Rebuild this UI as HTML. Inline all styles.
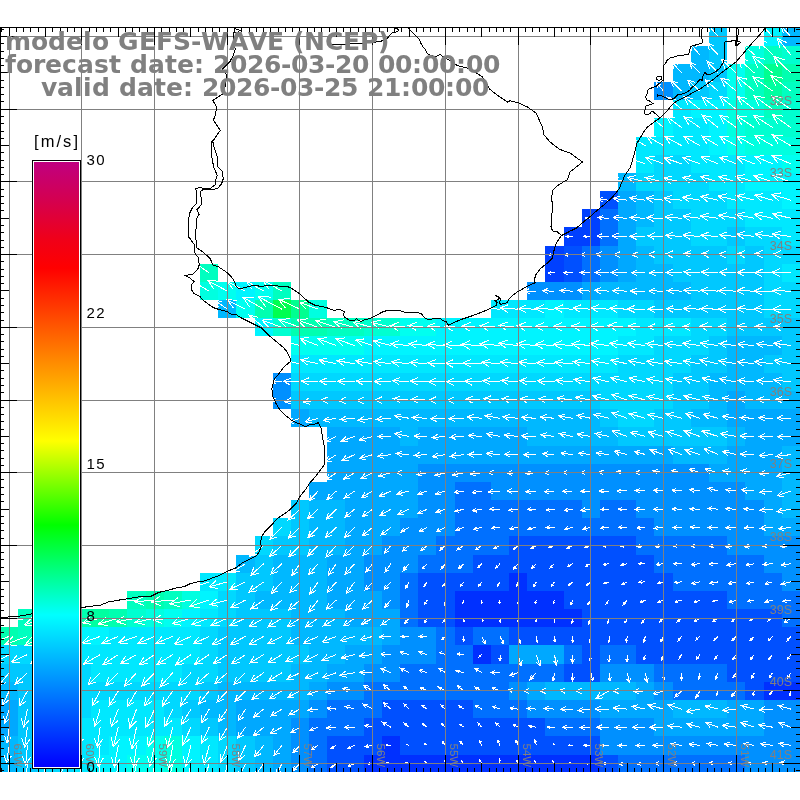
<!DOCTYPE html><html><head><meta charset="utf-8"><title>GEFS-WAVE</title><style>
html,body{margin:0;padding:0;background:#fff;width:800px;height:800px;overflow:hidden}
svg{display:block;position:absolute;left:0;top:0}
.t{font-family:"DejaVu Sans",sans-serif;font-weight:bold;font-size:25px;fill:#808080;font-kerning:none;white-space:pre}
.l{font-family:"Liberation Sans",Arial,sans-serif;font-size:12.5px;fill:#808080}.lo{font-family:"Liberation Sans",Arial,sans-serif;font-size:11.5px;fill:#808080}
.c{font-family:"Liberation Sans",Arial,sans-serif;font-size:15px;fill:#000;letter-spacing:1.5px}.u{font-family:"Liberation Sans",Arial,sans-serif;font-size:16.5px;fill:#000}
</style></head><body>
<svg width="800" height="800" viewBox="0 0 800 800">
<defs><clipPath id="pa"><rect x="0" y="27" width="800" height="745"/></clipPath>
<linearGradient id="cb" x1="0" y1="0" x2="0" y2="1">
<stop offset="0.0000" stop-color="#c00080"/>
<stop offset="0.0628" stop-color="#d40050"/>
<stop offset="0.1289" stop-color="#f00018"/>
<stop offset="0.1752" stop-color="#ff0000"/>
<stop offset="0.4612" stop-color="#ffff00"/>
<stop offset="0.6000" stop-color="#00ff00"/>
<stop offset="0.7488" stop-color="#00ffff"/>
<stop offset="1.0000" stop-color="#0000ff"/>
</linearGradient></defs>
<g clip-path="url(#pa)" shape-rendering="crispEdges">
<rect x="709" y="28" width="18" height="18" fill="#00c8ff"/>
<rect x="764" y="28" width="18" height="18" fill="#00f4ff"/>
<rect x="782" y="28" width="18" height="18" fill="#00b8ff"/>
<rect x="691" y="46" width="18" height="18" fill="#00b8ff"/>
<rect x="709" y="46" width="18" height="18" fill="#00c8ff"/>
<rect x="745" y="46" width="19" height="18" fill="#00ffe0"/>
<rect x="764" y="46" width="18" height="18" fill="#00ffc0"/>
<rect x="782" y="46" width="18" height="18" fill="#00ffd0"/>
<rect x="673" y="64" width="36" height="18" fill="#00b8ff"/>
<rect x="709" y="64" width="18" height="18" fill="#00c8ff"/>
<rect x="727" y="64" width="18" height="18" fill="#00fff0"/>
<rect x="745" y="64" width="19" height="18" fill="#00ffc0"/>
<rect x="764" y="64" width="18" height="18" fill="#00ff90"/>
<rect x="782" y="64" width="18" height="18" fill="#00ffb0"/>
<rect x="654" y="82" width="19" height="18" fill="#0090ff"/>
<rect x="673" y="82" width="18" height="18" fill="#00b8ff"/>
<rect x="691" y="82" width="18" height="18" fill="#00c8ff"/>
<rect x="709" y="82" width="18" height="18" fill="#00d8ff"/>
<rect x="727" y="82" width="18" height="18" fill="#00fff0"/>
<rect x="745" y="82" width="19" height="18" fill="#00ffc0"/>
<rect x="764" y="82" width="18" height="18" fill="#00ffa0"/>
<rect x="782" y="82" width="18" height="18" fill="#00ffc0"/>
<rect x="673" y="100" width="18" height="18" fill="#00e8ff"/>
<rect x="691" y="100" width="36" height="18" fill="#00f4ff"/>
<rect x="727" y="100" width="37" height="18" fill="#00ffe0"/>
<rect x="764" y="100" width="18" height="18" fill="#00ffc0"/>
<rect x="782" y="100" width="18" height="18" fill="#00ffd0"/>
<rect x="654" y="118" width="19" height="19" fill="#00f4ff"/>
<rect x="673" y="118" width="36" height="19" fill="#00e8ff"/>
<rect x="709" y="118" width="18" height="19" fill="#00f4ff"/>
<rect x="727" y="118" width="18" height="19" fill="#00ffe0"/>
<rect x="745" y="118" width="55" height="19" fill="#00ffd0"/>
<rect x="636" y="137" width="73" height="18" fill="#00e8ff"/>
<rect x="709" y="137" width="18" height="18" fill="#00f4ff"/>
<rect x="727" y="137" width="18" height="18" fill="#00fff0"/>
<rect x="745" y="137" width="55" height="18" fill="#00ffe0"/>
<rect x="636" y="155" width="18" height="18" fill="#00e8ff"/>
<rect x="654" y="155" width="37" height="18" fill="#00d8ff"/>
<rect x="691" y="155" width="54" height="18" fill="#00e8ff"/>
<rect x="745" y="155" width="37" height="18" fill="#00f4ff"/>
<rect x="782" y="155" width="18" height="18" fill="#00fff0"/>
<rect x="618" y="173" width="18" height="18" fill="#00b8ff"/>
<rect x="636" y="173" width="73" height="18" fill="#00d8ff"/>
<rect x="709" y="173" width="36" height="18" fill="#00e8ff"/>
<rect x="745" y="173" width="55" height="18" fill="#00f4ff"/>
<rect x="600" y="191" width="18" height="18" fill="#0050ff"/>
<rect x="618" y="191" width="18" height="18" fill="#00a8ff"/>
<rect x="636" y="191" width="18" height="18" fill="#00b8ff"/>
<rect x="654" y="191" width="19" height="18" fill="#00c8ff"/>
<rect x="673" y="191" width="54" height="18" fill="#00d8ff"/>
<rect x="727" y="191" width="55" height="18" fill="#00e8ff"/>
<rect x="782" y="191" width="18" height="18" fill="#00f4ff"/>
<rect x="582" y="209" width="18" height="18" fill="#0040ff"/>
<rect x="600" y="209" width="18" height="18" fill="#0070ff"/>
<rect x="618" y="209" width="18" height="18" fill="#00a8ff"/>
<rect x="636" y="209" width="18" height="18" fill="#00b8ff"/>
<rect x="654" y="209" width="37" height="18" fill="#00c8ff"/>
<rect x="691" y="209" width="54" height="18" fill="#00d8ff"/>
<rect x="745" y="209" width="55" height="18" fill="#00e8ff"/>
<rect x="564" y="227" width="36" height="19" fill="#0040ff"/>
<rect x="600" y="227" width="18" height="19" fill="#0070ff"/>
<rect x="618" y="227" width="18" height="19" fill="#00a8ff"/>
<rect x="636" y="227" width="55" height="19" fill="#00c8ff"/>
<rect x="691" y="227" width="36" height="19" fill="#00d8ff"/>
<rect x="727" y="227" width="18" height="19" fill="#00c8ff"/>
<rect x="745" y="227" width="37" height="19" fill="#00d8ff"/>
<rect x="782" y="227" width="18" height="19" fill="#00e8ff"/>
<rect x="545" y="246" width="19" height="18" fill="#0040ff"/>
<rect x="564" y="246" width="18" height="18" fill="#0050ff"/>
<rect x="582" y="246" width="18" height="18" fill="#0070ff"/>
<rect x="600" y="246" width="18" height="18" fill="#0090ff"/>
<rect x="618" y="246" width="18" height="18" fill="#00a8ff"/>
<rect x="636" y="246" width="18" height="18" fill="#00b8ff"/>
<rect x="654" y="246" width="73" height="18" fill="#00c8ff"/>
<rect x="727" y="246" width="18" height="18" fill="#00d8ff"/>
<rect x="745" y="246" width="19" height="18" fill="#00c8ff"/>
<rect x="764" y="246" width="36" height="18" fill="#00d8ff"/>
<rect x="200" y="264" width="18" height="18" fill="#00ffc0"/>
<rect x="545" y="264" width="19" height="18" fill="#0040ff"/>
<rect x="564" y="264" width="18" height="18" fill="#0050ff"/>
<rect x="582" y="264" width="18" height="18" fill="#0070ff"/>
<rect x="600" y="264" width="18" height="18" fill="#0090ff"/>
<rect x="618" y="264" width="18" height="18" fill="#00a8ff"/>
<rect x="636" y="264" width="37" height="18" fill="#00b8ff"/>
<rect x="673" y="264" width="91" height="18" fill="#00c8ff"/>
<rect x="764" y="264" width="18" height="18" fill="#00d8ff"/>
<rect x="782" y="264" width="18" height="18" fill="#00e8ff"/>
<rect x="200" y="282" width="18" height="18" fill="#00ffe0"/>
<rect x="218" y="282" width="18" height="18" fill="#00fff0"/>
<rect x="236" y="282" width="19" height="18" fill="#00f4ff"/>
<rect x="255" y="282" width="18" height="18" fill="#00fff0"/>
<rect x="273" y="282" width="18" height="18" fill="#00ffc0"/>
<rect x="527" y="282" width="55" height="18" fill="#0090ff"/>
<rect x="582" y="282" width="18" height="18" fill="#00a8ff"/>
<rect x="600" y="282" width="91" height="18" fill="#00b8ff"/>
<rect x="691" y="282" width="73" height="18" fill="#00c8ff"/>
<rect x="764" y="282" width="36" height="18" fill="#00d8ff"/>
<rect x="218" y="300" width="18" height="18" fill="#00b8ff"/>
<rect x="236" y="300" width="19" height="18" fill="#00fff0"/>
<rect x="255" y="300" width="18" height="18" fill="#00ffb0"/>
<rect x="273" y="300" width="18" height="18" fill="#00ff50"/>
<rect x="291" y="300" width="18" height="18" fill="#00ff90"/>
<rect x="309" y="300" width="18" height="18" fill="#00ffe0"/>
<rect x="491" y="300" width="54" height="18" fill="#00e8ff"/>
<rect x="545" y="300" width="19" height="18" fill="#00f4ff"/>
<rect x="564" y="300" width="54" height="18" fill="#00e8ff"/>
<rect x="618" y="300" width="36" height="18" fill="#00d8ff"/>
<rect x="654" y="300" width="110" height="18" fill="#00c8ff"/>
<rect x="764" y="300" width="36" height="18" fill="#00d8ff"/>
<rect x="255" y="318" width="18" height="18" fill="#00f4ff"/>
<rect x="273" y="318" width="18" height="18" fill="#00ffd0"/>
<rect x="291" y="318" width="36" height="18" fill="#00ffb0"/>
<rect x="327" y="318" width="37" height="18" fill="#00ffc0"/>
<rect x="364" y="318" width="36" height="18" fill="#00ffd0"/>
<rect x="400" y="318" width="36" height="18" fill="#00fff0"/>
<rect x="436" y="318" width="200" height="18" fill="#00f4ff"/>
<rect x="636" y="318" width="55" height="18" fill="#00e8ff"/>
<rect x="691" y="318" width="36" height="18" fill="#00d8ff"/>
<rect x="727" y="318" width="73" height="18" fill="#00c8ff"/>
<rect x="291" y="336" width="73" height="19" fill="#00fff0"/>
<rect x="364" y="336" width="254" height="19" fill="#00f4ff"/>
<rect x="618" y="336" width="36" height="19" fill="#00e8ff"/>
<rect x="654" y="336" width="55" height="19" fill="#00d8ff"/>
<rect x="709" y="336" width="18" height="19" fill="#00c8ff"/>
<rect x="727" y="336" width="55" height="19" fill="#00b8ff"/>
<rect x="782" y="336" width="18" height="19" fill="#00c8ff"/>
<rect x="291" y="355" width="327" height="18" fill="#00e8ff"/>
<rect x="618" y="355" width="73" height="18" fill="#00d8ff"/>
<rect x="691" y="355" width="36" height="18" fill="#00c8ff"/>
<rect x="727" y="355" width="37" height="18" fill="#00b8ff"/>
<rect x="764" y="355" width="36" height="18" fill="#00c8ff"/>
<rect x="273" y="373" width="18" height="18" fill="#0090ff"/>
<rect x="291" y="373" width="382" height="18" fill="#00d8ff"/>
<rect x="673" y="373" width="36" height="18" fill="#00c8ff"/>
<rect x="709" y="373" width="73" height="18" fill="#00b8ff"/>
<rect x="782" y="373" width="18" height="18" fill="#00c8ff"/>
<rect x="273" y="391" width="18" height="18" fill="#0090ff"/>
<rect x="291" y="391" width="309" height="18" fill="#00c8ff"/>
<rect x="600" y="391" width="73" height="18" fill="#00d8ff"/>
<rect x="673" y="391" width="36" height="18" fill="#00c8ff"/>
<rect x="709" y="391" width="18" height="18" fill="#00b8ff"/>
<rect x="727" y="391" width="18" height="18" fill="#00a8ff"/>
<rect x="745" y="391" width="55" height="18" fill="#00b8ff"/>
<rect x="291" y="409" width="18" height="18" fill="#00a8ff"/>
<rect x="309" y="409" width="291" height="18" fill="#00b8ff"/>
<rect x="600" y="409" width="18" height="18" fill="#00c8ff"/>
<rect x="618" y="409" width="36" height="18" fill="#00d8ff"/>
<rect x="654" y="409" width="37" height="18" fill="#00c8ff"/>
<rect x="691" y="409" width="36" height="18" fill="#00b8ff"/>
<rect x="727" y="409" width="73" height="18" fill="#00a8ff"/>
<rect x="327" y="427" width="73" height="19" fill="#00a8ff"/>
<rect x="400" y="427" width="18" height="19" fill="#00b8ff"/>
<rect x="418" y="427" width="109" height="19" fill="#00a8ff"/>
<rect x="527" y="427" width="91" height="19" fill="#00b8ff"/>
<rect x="618" y="427" width="109" height="19" fill="#00c8ff"/>
<rect x="727" y="427" width="18" height="19" fill="#00b8ff"/>
<rect x="745" y="427" width="55" height="19" fill="#00a8ff"/>
<rect x="327" y="446" width="346" height="18" fill="#00a8ff"/>
<rect x="673" y="446" width="54" height="18" fill="#00b8ff"/>
<rect x="727" y="446" width="55" height="18" fill="#00a8ff"/>
<rect x="782" y="446" width="18" height="18" fill="#00b8ff"/>
<rect x="327" y="464" width="91" height="18" fill="#00a8ff"/>
<rect x="418" y="464" width="291" height="18" fill="#0090ff"/>
<rect x="709" y="464" width="73" height="18" fill="#00a8ff"/>
<rect x="782" y="464" width="18" height="18" fill="#00b8ff"/>
<rect x="309" y="482" width="109" height="18" fill="#00a8ff"/>
<rect x="418" y="482" width="37" height="18" fill="#0090ff"/>
<rect x="455" y="482" width="36" height="18" fill="#0070ff"/>
<rect x="491" y="482" width="254" height="18" fill="#0090ff"/>
<rect x="745" y="482" width="37" height="18" fill="#00a8ff"/>
<rect x="782" y="482" width="18" height="18" fill="#00b8ff"/>
<rect x="291" y="500" width="18" height="18" fill="#00c8ff"/>
<rect x="309" y="500" width="36" height="18" fill="#00b8ff"/>
<rect x="345" y="500" width="73" height="18" fill="#00a8ff"/>
<rect x="418" y="500" width="37" height="18" fill="#0090ff"/>
<rect x="455" y="500" width="127" height="18" fill="#0070ff"/>
<rect x="582" y="500" width="18" height="18" fill="#0090ff"/>
<rect x="600" y="500" width="36" height="18" fill="#0070ff"/>
<rect x="636" y="500" width="128" height="18" fill="#0090ff"/>
<rect x="764" y="500" width="18" height="18" fill="#00a8ff"/>
<rect x="782" y="500" width="18" height="18" fill="#00b8ff"/>
<rect x="273" y="518" width="18" height="18" fill="#00d8ff"/>
<rect x="291" y="518" width="18" height="18" fill="#00c8ff"/>
<rect x="309" y="518" width="36" height="18" fill="#00b8ff"/>
<rect x="345" y="518" width="55" height="18" fill="#00a8ff"/>
<rect x="400" y="518" width="55" height="18" fill="#0090ff"/>
<rect x="455" y="518" width="199" height="18" fill="#0070ff"/>
<rect x="654" y="518" width="110" height="18" fill="#0090ff"/>
<rect x="764" y="518" width="36" height="18" fill="#00a8ff"/>
<rect x="255" y="536" width="18" height="19" fill="#00d8ff"/>
<rect x="273" y="536" width="36" height="19" fill="#00c8ff"/>
<rect x="309" y="536" width="36" height="19" fill="#00b8ff"/>
<rect x="345" y="536" width="37" height="19" fill="#00a8ff"/>
<rect x="382" y="536" width="54" height="19" fill="#0090ff"/>
<rect x="436" y="536" width="73" height="19" fill="#0070ff"/>
<rect x="509" y="536" width="127" height="19" fill="#0050ff"/>
<rect x="636" y="536" width="91" height="19" fill="#0070ff"/>
<rect x="727" y="536" width="73" height="19" fill="#0090ff"/>
<rect x="236" y="555" width="19" height="18" fill="#00b8ff"/>
<rect x="255" y="555" width="18" height="18" fill="#00c8ff"/>
<rect x="273" y="555" width="54" height="18" fill="#00b8ff"/>
<rect x="327" y="555" width="37" height="18" fill="#00a8ff"/>
<rect x="364" y="555" width="54" height="18" fill="#0090ff"/>
<rect x="418" y="555" width="55" height="18" fill="#0070ff"/>
<rect x="473" y="555" width="181" height="18" fill="#0050ff"/>
<rect x="654" y="555" width="110" height="18" fill="#0070ff"/>
<rect x="764" y="555" width="36" height="18" fill="#0090ff"/>
<rect x="200" y="573" width="36" height="18" fill="#00e8ff"/>
<rect x="236" y="573" width="37" height="18" fill="#00c8ff"/>
<rect x="273" y="573" width="54" height="18" fill="#00b8ff"/>
<rect x="327" y="573" width="37" height="18" fill="#00a8ff"/>
<rect x="364" y="573" width="36" height="18" fill="#0090ff"/>
<rect x="400" y="573" width="18" height="18" fill="#0070ff"/>
<rect x="418" y="573" width="91" height="18" fill="#0050ff"/>
<rect x="509" y="573" width="18" height="18" fill="#0030ff"/>
<rect x="527" y="573" width="146" height="18" fill="#0050ff"/>
<rect x="673" y="573" width="109" height="18" fill="#0070ff"/>
<rect x="782" y="573" width="18" height="18" fill="#0090ff"/>
<rect x="127" y="591" width="19" height="18" fill="#00ffc0"/>
<rect x="146" y="591" width="18" height="18" fill="#00ffb0"/>
<rect x="164" y="591" width="18" height="18" fill="#00ffc0"/>
<rect x="182" y="591" width="18" height="18" fill="#00ffe0"/>
<rect x="200" y="591" width="18" height="18" fill="#00f4ff"/>
<rect x="218" y="591" width="18" height="18" fill="#00d8ff"/>
<rect x="236" y="591" width="19" height="18" fill="#00c8ff"/>
<rect x="255" y="591" width="72" height="18" fill="#00b8ff"/>
<rect x="327" y="591" width="55" height="18" fill="#00a8ff"/>
<rect x="382" y="591" width="18" height="18" fill="#0090ff"/>
<rect x="400" y="591" width="18" height="18" fill="#0070ff"/>
<rect x="418" y="591" width="37" height="18" fill="#0050ff"/>
<rect x="455" y="591" width="109" height="18" fill="#0030ff"/>
<rect x="564" y="591" width="163" height="18" fill="#0050ff"/>
<rect x="727" y="591" width="73" height="18" fill="#0070ff"/>
<rect x="18" y="609" width="55" height="18" fill="#00ffc0"/>
<rect x="73" y="609" width="18" height="18" fill="#00ffb0"/>
<rect x="91" y="609" width="18" height="18" fill="#00ffa0"/>
<rect x="109" y="609" width="18" height="18" fill="#00ffb0"/>
<rect x="127" y="609" width="19" height="18" fill="#00ffd0"/>
<rect x="146" y="609" width="18" height="18" fill="#00ffe0"/>
<rect x="164" y="609" width="18" height="18" fill="#00fff0"/>
<rect x="182" y="609" width="18" height="18" fill="#00f4ff"/>
<rect x="200" y="609" width="18" height="18" fill="#00e8ff"/>
<rect x="218" y="609" width="18" height="18" fill="#00d8ff"/>
<rect x="236" y="609" width="55" height="18" fill="#00c8ff"/>
<rect x="291" y="609" width="54" height="18" fill="#00b8ff"/>
<rect x="345" y="609" width="55" height="18" fill="#00a8ff"/>
<rect x="400" y="609" width="18" height="18" fill="#0070ff"/>
<rect x="418" y="609" width="37" height="18" fill="#0050ff"/>
<rect x="455" y="609" width="127" height="18" fill="#0030ff"/>
<rect x="582" y="609" width="200" height="18" fill="#0050ff"/>
<rect x="782" y="609" width="18" height="18" fill="#0070ff"/>
<rect x="0" y="627" width="18" height="18" fill="#00ffb0"/>
<rect x="18" y="627" width="37" height="18" fill="#00ffc0"/>
<rect x="55" y="627" width="18" height="18" fill="#00ffd0"/>
<rect x="73" y="627" width="36" height="18" fill="#00f4ff"/>
<rect x="109" y="627" width="91" height="18" fill="#00e8ff"/>
<rect x="200" y="627" width="18" height="18" fill="#00d8ff"/>
<rect x="218" y="627" width="73" height="18" fill="#00c8ff"/>
<rect x="291" y="627" width="91" height="18" fill="#00b8ff"/>
<rect x="382" y="627" width="18" height="18" fill="#00a8ff"/>
<rect x="400" y="627" width="36" height="18" fill="#0090ff"/>
<rect x="436" y="627" width="19" height="18" fill="#0070ff"/>
<rect x="455" y="627" width="18" height="18" fill="#0050ff"/>
<rect x="473" y="627" width="36" height="18" fill="#0070ff"/>
<rect x="509" y="627" width="291" height="18" fill="#0050ff"/>
<rect x="0" y="645" width="73" height="19" fill="#00d8ff"/>
<rect x="73" y="645" width="127" height="19" fill="#00e8ff"/>
<rect x="200" y="645" width="18" height="19" fill="#00d8ff"/>
<rect x="218" y="645" width="91" height="19" fill="#00c8ff"/>
<rect x="309" y="645" width="36" height="19" fill="#00b8ff"/>
<rect x="345" y="645" width="37" height="19" fill="#00a8ff"/>
<rect x="382" y="645" width="54" height="19" fill="#0090ff"/>
<rect x="436" y="645" width="37" height="19" fill="#0070ff"/>
<rect x="473" y="645" width="18" height="19" fill="#0030ff"/>
<rect x="491" y="645" width="18" height="19" fill="#0050ff"/>
<rect x="509" y="645" width="55" height="19" fill="#00a8ff"/>
<rect x="564" y="645" width="18" height="19" fill="#0070ff"/>
<rect x="582" y="645" width="18" height="19" fill="#0050ff"/>
<rect x="600" y="645" width="36" height="19" fill="#0070ff"/>
<rect x="636" y="645" width="164" height="19" fill="#0050ff"/>
<rect x="0" y="664" width="73" height="18" fill="#00c8ff"/>
<rect x="73" y="664" width="18" height="18" fill="#00d8ff"/>
<rect x="91" y="664" width="91" height="18" fill="#00e8ff"/>
<rect x="182" y="664" width="36" height="18" fill="#00d8ff"/>
<rect x="218" y="664" width="73" height="18" fill="#00c8ff"/>
<rect x="291" y="664" width="36" height="18" fill="#00b8ff"/>
<rect x="327" y="664" width="37" height="18" fill="#00a8ff"/>
<rect x="364" y="664" width="36" height="18" fill="#0090ff"/>
<rect x="400" y="664" width="164" height="18" fill="#0070ff"/>
<rect x="564" y="664" width="36" height="18" fill="#0050ff"/>
<rect x="600" y="664" width="54" height="18" fill="#0090ff"/>
<rect x="654" y="664" width="73" height="18" fill="#0070ff"/>
<rect x="727" y="664" width="73" height="18" fill="#0050ff"/>
<rect x="0" y="682" width="18" height="18" fill="#00b8ff"/>
<rect x="18" y="682" width="55" height="18" fill="#00c8ff"/>
<rect x="73" y="682" width="127" height="18" fill="#00d8ff"/>
<rect x="200" y="682" width="18" height="18" fill="#00c8ff"/>
<rect x="218" y="682" width="91" height="18" fill="#00b8ff"/>
<rect x="309" y="682" width="18" height="18" fill="#00a8ff"/>
<rect x="327" y="682" width="37" height="18" fill="#0090ff"/>
<rect x="364" y="682" width="145" height="18" fill="#0070ff"/>
<rect x="509" y="682" width="18" height="18" fill="#0090ff"/>
<rect x="527" y="682" width="18" height="18" fill="#00a8ff"/>
<rect x="545" y="682" width="91" height="18" fill="#00b8ff"/>
<rect x="636" y="682" width="18" height="18" fill="#00a8ff"/>
<rect x="654" y="682" width="19" height="18" fill="#0090ff"/>
<rect x="673" y="682" width="72" height="18" fill="#0070ff"/>
<rect x="745" y="682" width="19" height="18" fill="#0050ff"/>
<rect x="764" y="682" width="36" height="18" fill="#0030ff"/>
<rect x="0" y="700" width="18" height="18" fill="#00a8ff"/>
<rect x="18" y="700" width="55" height="18" fill="#00c8ff"/>
<rect x="73" y="700" width="18" height="18" fill="#00d8ff"/>
<rect x="91" y="700" width="73" height="18" fill="#00e8ff"/>
<rect x="164" y="700" width="18" height="18" fill="#00d8ff"/>
<rect x="182" y="700" width="18" height="18" fill="#00c8ff"/>
<rect x="200" y="700" width="36" height="18" fill="#00b8ff"/>
<rect x="236" y="700" width="73" height="18" fill="#00a8ff"/>
<rect x="309" y="700" width="18" height="18" fill="#0090ff"/>
<rect x="327" y="700" width="55" height="18" fill="#0070ff"/>
<rect x="382" y="700" width="91" height="18" fill="#0050ff"/>
<rect x="473" y="700" width="54" height="18" fill="#0070ff"/>
<rect x="527" y="700" width="73" height="18" fill="#0090ff"/>
<rect x="600" y="700" width="73" height="18" fill="#00a8ff"/>
<rect x="673" y="700" width="54" height="18" fill="#00b8ff"/>
<rect x="727" y="700" width="37" height="18" fill="#00a8ff"/>
<rect x="764" y="700" width="36" height="18" fill="#0090ff"/>
<rect x="0" y="718" width="18" height="18" fill="#00a8ff"/>
<rect x="18" y="718" width="55" height="18" fill="#00c8ff"/>
<rect x="73" y="718" width="109" height="18" fill="#00e8ff"/>
<rect x="182" y="718" width="18" height="18" fill="#00d8ff"/>
<rect x="200" y="718" width="18" height="18" fill="#00c8ff"/>
<rect x="218" y="718" width="18" height="18" fill="#00b8ff"/>
<rect x="236" y="718" width="55" height="18" fill="#00a8ff"/>
<rect x="291" y="718" width="18" height="18" fill="#0090ff"/>
<rect x="309" y="718" width="55" height="18" fill="#0070ff"/>
<rect x="364" y="718" width="181" height="18" fill="#0050ff"/>
<rect x="545" y="718" width="55" height="18" fill="#0070ff"/>
<rect x="600" y="718" width="54" height="18" fill="#0090ff"/>
<rect x="654" y="718" width="110" height="18" fill="#00a8ff"/>
<rect x="764" y="718" width="36" height="18" fill="#0090ff"/>
<rect x="0" y="736" width="18" height="19" fill="#00b8ff"/>
<rect x="18" y="736" width="19" height="19" fill="#00c8ff"/>
<rect x="37" y="736" width="36" height="19" fill="#00d8ff"/>
<rect x="73" y="736" width="36" height="19" fill="#00e8ff"/>
<rect x="109" y="736" width="37" height="19" fill="#00f4ff"/>
<rect x="146" y="736" width="18" height="19" fill="#00fff0"/>
<rect x="164" y="736" width="18" height="19" fill="#00ffe0"/>
<rect x="182" y="736" width="18" height="19" fill="#00f4ff"/>
<rect x="200" y="736" width="18" height="19" fill="#00e8ff"/>
<rect x="218" y="736" width="18" height="19" fill="#00d8ff"/>
<rect x="236" y="736" width="19" height="19" fill="#00c8ff"/>
<rect x="255" y="736" width="18" height="19" fill="#00b8ff"/>
<rect x="273" y="736" width="18" height="19" fill="#00a8ff"/>
<rect x="291" y="736" width="18" height="19" fill="#0090ff"/>
<rect x="309" y="736" width="18" height="19" fill="#0070ff"/>
<rect x="327" y="736" width="55" height="19" fill="#0050ff"/>
<rect x="382" y="736" width="18" height="19" fill="#0030ff"/>
<rect x="400" y="736" width="200" height="19" fill="#0050ff"/>
<rect x="600" y="736" width="200" height="19" fill="#0090ff"/>
<rect x="0" y="755" width="18" height="18" fill="#00b8ff"/>
<rect x="18" y="755" width="19" height="18" fill="#00c8ff"/>
<rect x="37" y="755" width="36" height="18" fill="#00d8ff"/>
<rect x="73" y="755" width="18" height="18" fill="#00e8ff"/>
<rect x="91" y="755" width="36" height="18" fill="#00f4ff"/>
<rect x="127" y="755" width="37" height="18" fill="#00fff0"/>
<rect x="164" y="755" width="18" height="18" fill="#00ffe0"/>
<rect x="182" y="755" width="18" height="18" fill="#00f4ff"/>
<rect x="200" y="755" width="18" height="18" fill="#00e8ff"/>
<rect x="218" y="755" width="18" height="18" fill="#00d8ff"/>
<rect x="236" y="755" width="19" height="18" fill="#00c8ff"/>
<rect x="255" y="755" width="18" height="18" fill="#00b8ff"/>
<rect x="273" y="755" width="18" height="18" fill="#00a8ff"/>
<rect x="291" y="755" width="18" height="18" fill="#0090ff"/>
<rect x="309" y="755" width="18" height="18" fill="#0070ff"/>
<rect x="327" y="755" width="37" height="18" fill="#0050ff"/>
<rect x="364" y="755" width="236" height="18" fill="#0030ff"/>
<rect x="600" y="755" width="18" height="18" fill="#0050ff"/>
<rect x="618" y="755" width="127" height="18" fill="#0070ff"/>
<rect x="745" y="755" width="55" height="18" fill="#0090ff"/>
</g>
<g stroke="#fff" stroke-width="1" fill="none" clip-path="url(#pa)" shape-rendering="crispEdges">
<path d="M718.1 36.6L707.8 24.4M709.7 31.8L707.8 24.4L714.8 27.5"/>
<path d="M772.6 36.6L760.0 22.6M762.5 31.3L760.0 22.6L768.4 26.0"/>
<path d="M790.8 36.6L781.3 26.3M783.2 32.7L781.3 26.3L787.6 28.7"/>
<path d="M699.9 54.8L690.1 43.9M692.0 50.6L690.1 43.9L696.6 46.5"/>
<path d="M718.1 54.8L707.1 43.1M709.4 50.4L707.1 43.1L714.3 45.8"/>
<path d="M754.4 54.8L738.9 40.6M742.6 50.0L738.9 40.6L748.6 43.4"/>
<path d="M772.6 54.8L756.4 38.8M760.0 49.1L756.4 38.8L766.8 42.3"/>
<path d="M790.8 54.8L777.4 38.2M779.7 48.2L777.4 38.2L786.6 42.5"/>
<path d="M681.7 73.0L671.8 61.9M673.7 68.8L671.8 61.9L678.4 64.6"/>
<path d="M699.9 73.0L689.7 62.3M691.8 69.1L689.7 62.3L696.3 64.7"/>
<path d="M718.1 73.0L707.1 61.2M709.4 68.6L707.1 61.2L714.3 64.0"/>
<path d="M736.2 73.0L721.3 59.3M724.9 68.4L721.3 59.3L730.6 62.1"/>
<path d="M754.4 73.0L737.3 57.5M741.5 67.8L737.3 57.5L747.9 60.6"/>
<path d="M772.6 73.0L752.8 56.3M757.8 67.7L752.8 56.3L764.8 59.3"/>
<path d="M790.8 73.0L773.7 56.4M777.6 67.2L773.7 56.4L784.5 59.9"/>
<path d="M663.6 91.1L656.4 82.6M657.7 87.8L656.4 82.6L661.3 84.8"/>
<path d="M681.7 91.1L670.9 80.6M673.4 87.4L670.9 80.6L677.8 82.9"/>
<path d="M699.9 91.1L687.7 80.1M690.6 87.4L687.7 80.1L695.3 82.3"/>
<path d="M718.1 91.1L705.2 79.7M708.3 87.3L705.2 79.7L713.2 81.9"/>
<path d="M736.2 91.1L720.7 78.1M724.7 87.0L720.7 78.1L730.2 80.4"/>
<path d="M754.4 91.1L736.6 76.7M741.2 86.7L736.6 76.7L747.3 79.2"/>
<path d="M772.6 91.1L752.7 76.7M758.2 87.1L752.7 76.7L764.3 78.7"/>
<path d="M790.8 91.1L771.1 75.7M776.3 86.5L771.1 75.7L782.8 78.2"/>
<path d="M681.7 109.3L667.3 97.2M671.0 105.4L667.3 97.2L676.1 99.4"/>
<path d="M699.9 109.3L683.9 96.7M688.1 105.5L683.9 96.7L693.4 98.8"/>
<path d="M718.1 109.3L702.3 97.1M706.5 105.7L702.3 97.1L711.7 99.0"/>
<path d="M736.2 109.3L719.5 96.2M724.0 105.4L719.5 96.2L729.5 98.4"/>
<path d="M754.4 109.3L737.5 96.6M742.2 105.6L737.5 96.6L747.5 98.5"/>
<path d="M772.6 109.3L753.7 95.7M759.0 105.6L753.7 95.7L764.7 97.6"/>
<path d="M790.8 109.3L771.8 96.0M777.2 105.7L771.8 96.0L782.8 97.8"/>
<path d="M663.6 127.5L647.7 114.1M651.7 123.2L647.7 114.1L657.3 116.6"/>
<path d="M681.7 127.5L666.4 116.2M670.7 124.3L666.4 116.2L675.4 117.9"/>
<path d="M699.9 127.5L684.1 116.9M688.7 124.8L684.1 116.9L693.1 118.1"/>
<path d="M718.1 127.5L702.4 115.2M706.6 123.8L702.4 115.2L711.7 117.2"/>
<path d="M736.2 127.5L719.7 115.5M724.3 124.2L719.7 115.5L729.4 117.2"/>
<path d="M754.4 127.5L736.3 115.7M741.6 124.6L736.3 115.7L746.6 117.0"/>
<path d="M772.6 127.5L753.8 115.5M759.4 124.6L753.8 115.5L764.4 116.7"/>
<path d="M790.8 127.5L772.3 114.5M777.5 124.0L772.3 114.5L783.0 116.2"/>
<path d="M645.4 145.7L628.3 135.8M633.6 143.6L628.3 135.8L637.7 136.5"/>
<path d="M663.6 145.7L646.4 135.6M651.7 143.5L646.4 135.6L655.9 136.3"/>
<path d="M681.7 145.7L664.8 136.5M670.1 144.0L664.8 136.5L674.0 136.9"/>
<path d="M699.9 145.7L683.6 136.2M688.7 143.7L683.6 136.2L692.6 136.9"/>
<path d="M718.1 145.7L701.8 136.0M706.8 143.6L701.8 136.0L710.9 136.7"/>
<path d="M736.2 145.7L719.7 136.3M724.9 143.8L719.7 136.3L728.8 136.8"/>
<path d="M754.4 145.7L736.5 136.1M742.2 144.0L736.5 136.1L746.2 136.5"/>
<path d="M772.6 145.7L754.4 135.1M760.0 143.5L754.4 135.1L764.4 135.8"/>
<path d="M790.8 145.7L772.2 134.9M778.0 143.5L772.2 134.9L782.5 135.7"/>
<path d="M645.4 163.8L626.6 157.3M633.3 164.1L626.6 157.3L636.0 156.2"/>
<path d="M663.6 163.8L645.7 157.3M652.0 163.9L645.7 157.3L654.8 156.4"/>
<path d="M681.7 163.8L664.1 157.8M670.4 164.1L664.1 157.8L672.9 156.7"/>
<path d="M699.9 163.8L682.3 157.4M688.6 163.9L682.3 157.4L691.2 156.5"/>
<path d="M718.1 163.8L701.5 157.0M707.2 163.4L701.5 157.0L710.1 156.4"/>
<path d="M736.2 163.8L719.8 157.2M725.5 163.5L719.8 157.2L728.3 156.6"/>
<path d="M754.4 163.8L736.6 156.8M742.8 163.6L736.6 156.8L745.8 156.0"/>
<path d="M772.6 163.8L754.8 156.3M760.9 163.3L754.8 156.3L764.0 155.8"/>
<path d="M790.8 163.8L771.9 155.9M778.4 163.3L771.9 155.9L781.7 155.3"/>
<path d="M627.2 182.0L611.9 179.3M617.9 183.7L611.9 179.3L619.1 177.2"/>
<path d="M645.4 182.0L627.4 177.4M634.2 183.2L627.4 177.4L636.1 175.6"/>
<path d="M663.6 182.0L645.4 177.7M652.3 183.4L645.4 177.7L654.1 175.7"/>
<path d="M681.7 182.0L663.7 178.2M670.7 183.6L663.7 178.2L672.3 176.0"/>
<path d="M699.9 182.0L682.8 177.2M689.2 182.9L682.8 177.2L691.2 175.7"/>
<path d="M718.1 182.0L700.5 176.5M706.9 182.5L700.5 176.5L709.2 175.1"/>
<path d="M736.2 182.0L718.6 176.6M725.1 182.6L718.6 176.6L727.3 175.2"/>
<path d="M754.4 182.0L735.4 176.2M742.4 182.7L735.4 176.2L744.8 174.7"/>
<path d="M772.6 182.0L754.0 175.5M760.6 182.2L754.0 175.5L763.4 174.4"/>
<path d="M790.8 182.0L772.3 175.3M778.8 182.1L772.3 175.3L781.7 174.3"/>
<path d="M609.0 200.2L598.1 199.2M602.6 201.9L598.1 199.2L603.0 197.3"/>
<path d="M627.2 200.2L613.3 198.3M618.9 202.0L613.3 198.3L619.7 196.2"/>
<path d="M645.4 200.2L629.8 197.9M636.0 202.2L629.8 197.9L637.0 195.6"/>
<path d="M663.6 200.2L646.2 198.1M653.2 202.7L646.2 198.1L654.1 195.3"/>
<path d="M681.7 200.2L663.5 198.3M671.0 202.9L663.5 198.3L671.8 195.3"/>
<path d="M699.9 200.2L682.5 197.2M689.4 202.2L682.5 197.2L690.6 194.8"/>
<path d="M718.1 200.2L700.8 196.4M707.5 201.7L700.8 196.4L709.1 194.4"/>
<path d="M736.2 200.2L718.0 196.0M725.0 201.6L718.0 196.0L726.8 193.9"/>
<path d="M754.4 200.2L736.3 195.7M743.2 201.4L736.3 195.7L745.1 193.8"/>
<path d="M772.6 200.2L754.8 195.1M761.4 201.0L754.8 195.1L763.5 193.6"/>
<path d="M790.8 200.2L771.8 194.4M778.8 200.9L771.8 194.4L781.2 192.9"/>
<path d="M590.9 218.3L584.9 218.1M587.4 219.5L584.9 218.1L587.5 217.0"/>
<path d="M609.0 218.3L598.1 217.6M602.6 220.2L598.1 217.6L602.9 215.6"/>
<path d="M627.2 218.3L613.2 217.2M619.0 220.6L613.2 217.2L619.5 214.8"/>
<path d="M645.4 218.3L630.3 217.5M636.6 221.1L630.3 217.5L637.0 214.7"/>
<path d="M663.6 218.3L646.5 217.8M653.7 221.6L646.5 217.8L654.0 214.4"/>
<path d="M681.7 218.3L665.2 216.8M672.0 220.9L665.2 216.8L672.6 214.0"/>
<path d="M699.9 218.3L682.8 216.1M689.7 220.7L682.8 216.1L690.7 213.5"/>
<path d="M718.1 218.3L700.5 215.9M707.6 220.6L700.5 215.9L708.6 213.3"/>
<path d="M736.2 218.3L718.5 215.2M725.5 220.3L718.5 215.2L726.8 212.8"/>
<path d="M754.4 218.3L735.9 214.5M743.1 220.0L735.9 214.5L744.7 212.2"/>
<path d="M772.6 218.3L754.4 214.2M761.4 219.8L754.4 214.2L763.2 212.1"/>
<path d="M790.8 218.3L772.9 213.9M779.7 219.6L772.9 213.9L781.5 212.0"/>
<path d="M572.7 236.5L566.2 236.5M569.0 237.9L566.2 236.5L569.0 235.2"/>
<path d="M590.9 236.5L583.4 236.3M586.5 238.0L583.4 236.3L586.6 234.8"/>
<path d="M609.0 236.5L597.0 235.9M602.1 238.7L597.0 235.9L602.3 233.7"/>
<path d="M627.2 236.5L611.9 236.0M618.4 239.4L611.9 236.0L618.6 233.0"/>
<path d="M645.4 236.5L630.0 236.3M636.6 239.6L630.0 236.3L636.7 233.1"/>
<path d="M663.6 236.5L647.8 235.9M654.4 239.5L647.8 235.9L654.7 232.8"/>
<path d="M681.7 236.5L665.7 235.3M672.3 239.2L665.7 235.3L672.9 232.4"/>
<path d="M699.9 236.5L683.0 235.0M689.9 239.2L683.0 235.0L690.6 232.1"/>
<path d="M718.1 236.5L700.8 235.3M708.0 239.5L700.8 235.3L708.5 232.2"/>
<path d="M736.2 236.5L719.5 234.8M726.4 239.1L719.5 234.8L727.1 232.0"/>
<path d="M754.4 236.5L736.8 234.2M743.9 238.9L736.8 234.2L744.9 231.5"/>
<path d="M772.6 236.5L755.1 234.0M762.1 238.7L755.1 234.0L763.2 231.4"/>
<path d="M790.8 236.5L772.4 233.9M779.8 238.9L772.4 233.9L780.9 231.2"/>
<path d="M554.5 254.7L548.5 254.7M551.1 256.0L548.5 254.7L551.1 253.4"/>
<path d="M572.7 254.7L564.7 254.6M568.1 256.3L564.7 254.6L568.1 253.0"/>
<path d="M590.9 254.7L580.9 254.4M585.1 256.6L580.9 254.4L585.2 252.4"/>
<path d="M609.0 254.7L596.0 254.2M601.5 257.1L596.0 254.2L601.8 251.7"/>
<path d="M627.2 254.7L614.2 254.4M619.8 257.3L614.2 254.4L619.9 251.8"/>
<path d="M645.4 254.7L631.9 254.7M637.7 257.5L631.9 254.7L637.7 251.9"/>
<path d="M663.6 254.7L648.3 254.4M654.8 257.7L648.3 254.4L655.0 251.3"/>
<path d="M681.7 254.7L665.8 253.9M672.5 257.6L665.8 253.9L672.8 250.9"/>
<path d="M699.9 254.7L683.9 253.5M690.5 257.4L683.9 253.5L691.0 250.6"/>
<path d="M718.1 254.7L701.8 253.7M708.6 257.6L701.8 253.7L709.0 250.7"/>
<path d="M736.2 254.7L718.6 254.4M726.2 258.2L718.6 254.4L726.3 250.8"/>
<path d="M754.4 254.7L737.7 253.8M744.7 257.7L737.7 253.8L745.1 250.7"/>
<path d="M772.6 254.7L754.9 253.7M762.4 257.9L754.9 253.7L762.8 250.4"/>
<path d="M790.8 254.7L773.2 254.1M780.7 258.0L773.2 254.1L780.9 250.7"/>
<path d="M209.2 272.9L188.8 258.6M194.6 269.1L188.8 258.6L200.6 260.5"/>
<path d="M554.5 272.9L548.0 272.9M550.8 274.2L548.0 272.9L550.8 271.5"/>
<path d="M572.7 272.9L563.7 272.8M567.5 274.7L563.7 272.8L567.6 270.9"/>
<path d="M590.9 272.9L580.4 272.5M584.8 274.9L580.4 272.5L585.0 270.5"/>
<path d="M609.0 272.9L595.0 272.3M600.9 275.5L595.0 272.3L601.2 269.6"/>
<path d="M627.2 272.9L610.9 272.5M617.9 276.1L610.9 272.5L618.0 269.2"/>
<path d="M645.4 272.9L631.4 272.7M637.4 275.7L631.4 272.7L637.5 269.9"/>
<path d="M663.6 272.9L649.4 272.9M655.5 275.8L649.4 272.9L655.5 269.9"/>
<path d="M681.7 272.9L665.8 272.5M672.6 276.0L665.8 272.5L672.8 269.3"/>
<path d="M699.9 272.9L683.7 271.9M690.5 275.7L683.7 271.9L690.9 268.9"/>
<path d="M718.1 272.9L701.4 271.9M708.4 275.8L701.4 271.9L708.8 268.8"/>
<path d="M736.2 272.9L719.3 272.2M726.4 276.1L719.3 272.2L726.7 268.9"/>
<path d="M754.4 272.9L737.4 272.4M744.6 276.2L737.4 272.4L744.8 269.0"/>
<path d="M772.6 272.9L754.7 272.9M762.4 276.6L754.7 272.9L762.4 269.1"/>
<path d="M790.8 272.9L772.0 272.2M780.0 276.5L772.0 272.2L780.3 268.6"/>
<path d="M209.2 291.1L189.3 279.6M195.5 288.7L189.3 279.6L200.3 280.4"/>
<path d="M227.4 291.1L207.9 280.7M214.1 289.3L207.9 280.7L218.5 281.1"/>
<path d="M245.5 291.1L227.4 281.8M233.3 289.6L227.4 281.8L237.1 282.0"/>
<path d="M263.7 291.1L246.2 281.0M251.6 289.0L246.2 281.0L255.9 281.6"/>
<path d="M281.9 291.1L262.6 279.9M268.5 288.8L262.6 279.9L273.2 280.6"/>
<path d="M536.3 291.1L524.3 291.1M529.5 293.6L524.3 291.1L529.5 288.5"/>
<path d="M554.5 291.1L542.5 290.9M547.7 293.5L542.5 290.9L547.7 288.5"/>
<path d="M572.7 291.1L560.2 290.6M565.5 293.4L560.2 290.6L565.7 288.2"/>
<path d="M590.9 291.1L577.4 290.3M583.0 293.4L577.4 290.3L583.4 287.8"/>
<path d="M609.0 291.1L594.5 290.3M600.6 293.7L594.5 290.3L600.9 287.6"/>
<path d="M627.2 291.1L612.5 290.7M618.7 294.0L612.5 290.7L618.9 287.8"/>
<path d="M645.4 291.1L630.4 291.1M636.9 294.2L630.4 291.1L636.9 287.9"/>
<path d="M663.6 291.1L649.0 290.9M655.2 294.0L649.0 290.9L655.3 287.9"/>
<path d="M681.7 291.1L667.3 290.6M673.4 293.8L667.3 290.6L673.6 287.8"/>
<path d="M699.9 291.1L683.5 290.2M690.4 294.0L683.5 290.2L690.7 287.1"/>
<path d="M718.1 291.1L700.7 290.3M708.1 294.3L700.7 290.3L708.4 287.0"/>
<path d="M736.2 291.1L718.5 290.6M726.0 294.5L718.5 290.6L726.2 287.0"/>
<path d="M754.4 291.1L736.8 290.7M744.3 294.6L736.8 290.7L744.5 287.1"/>
<path d="M772.6 291.1L754.3 291.1M762.2 294.9L754.3 291.1L762.2 287.2"/>
<path d="M790.8 291.1L772.9 290.8M780.5 294.7L772.9 290.8L780.7 287.1"/>
<path d="M227.4 309.2L214.7 300.3M218.3 306.8L214.7 300.3L222.0 301.5"/>
<path d="M245.5 309.2L227.2 299.9M233.2 307.8L227.2 299.9L237.1 300.1"/>
<path d="M263.7 309.2L242.9 297.2M249.4 306.8L242.9 297.2L254.4 298.0"/>
<path d="M281.9 309.2L258.2 296.6M265.8 307.0L258.2 296.6L271.1 297.1"/>
<path d="M300.1 309.2L278.3 299.1M285.5 308.0L278.3 299.1L289.8 298.9"/>
<path d="M318.2 309.2L299.8 302.5M306.3 309.3L299.8 302.5L309.2 301.5"/>
<path d="M500.0 309.2L481.9 308.0M489.4 312.3L481.9 308.0L490.0 304.7"/>
<path d="M518.2 309.2L500.2 308.0M507.7 312.3L500.2 308.0L508.2 304.7"/>
<path d="M536.3 309.2L518.4 308.6M526.0 312.7L518.4 308.6L526.3 305.1"/>
<path d="M554.5 309.2L535.2 308.6M543.4 312.9L535.2 308.6L543.7 304.8"/>
<path d="M572.7 309.2L554.9 308.2M562.3 312.4L554.9 308.2L562.8 304.9"/>
<path d="M590.9 309.2L573.0 308.0M580.4 312.3L573.0 308.0L581.0 304.8"/>
<path d="M609.0 309.2L591.0 308.0M598.5 312.3L591.0 308.0L599.0 304.7"/>
<path d="M627.2 309.2L609.6 308.3M617.0 312.4L609.6 308.3L617.4 305.0"/>
<path d="M645.4 309.2L627.4 308.9M635.1 312.8L627.4 308.9L635.2 305.2"/>
<path d="M663.6 309.2L648.0 309.2M654.7 312.5L648.0 309.2L654.7 306.0"/>
<path d="M681.7 309.2L666.4 308.8M672.9 312.2L666.4 308.8L673.1 305.7"/>
<path d="M699.9 309.2L683.5 308.4M690.4 312.2L683.5 308.4L690.8 305.3"/>
<path d="M718.1 309.2L700.4 308.6M707.9 312.6L700.4 308.6L708.1 305.2"/>
<path d="M736.2 309.2L718.2 309.2M726.0 313.0L718.2 309.2L726.0 305.4"/>
<path d="M754.4 309.2L736.6 308.8M744.2 312.8L736.6 308.8L744.4 305.2"/>
<path d="M772.6 309.2L754.1 308.9M762.0 312.9L754.1 308.9L762.2 305.1"/>
<path d="M790.8 309.2L772.7 309.2M780.5 313.0L772.7 309.2L780.5 305.4"/>
<path d="M263.7 327.4L249.1 315.1M252.8 323.5L249.1 315.1L258.0 317.3"/>
<path d="M281.9 327.4L261.9 320.1M269.0 327.5L261.9 320.1L272.0 319.1"/>
<path d="M300.1 327.4L279.0 319.8M286.5 327.5L279.0 319.8L289.7 318.6"/>
<path d="M318.2 327.4L297.6 319.9M304.9 327.5L297.6 319.9L308.1 318.8"/>
<path d="M336.4 327.4L315.5 320.6M323.1 327.9L315.5 320.6L325.9 319.1"/>
<path d="M354.6 327.4L333.7 321.8M341.6 328.6L333.7 321.8L343.9 319.8"/>
<path d="M372.8 327.4L353.4 322.4M360.7 328.6L353.4 322.4L362.8 320.5"/>
<path d="M390.9 327.4L371.3 322.2M378.7 328.5L371.3 322.2L380.9 320.3"/>
<path d="M409.1 327.4L390.1 325.7M397.9 330.5L390.1 325.7L398.6 322.4"/>
<path d="M427.3 327.4L408.3 325.5M416.1 330.3L408.3 325.5L416.9 322.3"/>
<path d="M445.5 327.4L427.5 326.1M435.0 330.4L427.5 326.1L435.5 322.9"/>
<path d="M463.6 327.4L444.9 326.5M452.8 330.8L444.9 326.5L453.2 322.9"/>
<path d="M481.8 327.4L461.6 326.2M470.1 331.0L461.6 326.2L470.6 322.5"/>
<path d="M500.0 327.4L480.0 325.8M488.3 330.7L480.0 325.8L489.0 322.3"/>
<path d="M518.2 327.4L498.7 325.4M506.6 330.3L498.7 325.4L507.5 322.1"/>
<path d="M536.3 327.4L517.0 325.7M525.0 330.5L517.0 325.7L525.7 322.4"/>
<path d="M554.5 327.4L535.2 326.3M543.3 330.8L535.2 326.3L543.8 322.7"/>
<path d="M572.7 327.4L553.4 326.2M561.5 330.8L553.4 326.2L562.0 322.7"/>
<path d="M590.9 327.4L571.6 326.0M579.6 330.7L571.6 326.0L580.2 322.6"/>
<path d="M609.0 327.4L589.7 326.0M597.7 330.7L589.7 326.0L598.3 322.6"/>
<path d="M627.2 327.4L607.7 325.5M615.7 330.4L607.7 325.5L616.5 322.2"/>
<path d="M645.4 327.4L627.9 326.1M635.2 330.3L627.9 326.1L635.7 323.0"/>
<path d="M663.6 327.4L648.1 326.8M654.6 330.3L648.1 326.8L654.9 323.8"/>
<path d="M681.7 327.4L665.0 326.4M672.0 330.3L665.0 326.4L672.5 323.3"/>
<path d="M699.9 327.4L682.7 326.8M690.0 330.7L682.7 326.8L690.2 323.4"/>
<path d="M718.1 327.4L699.5 326.2M707.3 330.6L699.5 326.2L707.8 322.8"/>
<path d="M736.2 327.4L718.4 326.7M725.9 330.7L718.4 326.7L726.2 323.2"/>
<path d="M754.4 327.4L736.6 326.4M744.1 330.6L736.6 326.4L744.5 323.1"/>
<path d="M772.6 327.4L755.1 326.4M762.4 330.5L755.1 326.4L762.9 323.2"/>
<path d="M790.8 327.4L773.7 326.8M780.9 330.7L773.7 326.8L781.2 323.5"/>
<path d="M300.1 345.6L281.5 340.6M288.4 346.7L281.5 340.6L290.5 338.8"/>
<path d="M318.2 345.6L300.2 338.3M306.4 345.2L300.2 338.3L309.5 337.6"/>
<path d="M336.4 345.6L317.6 338.7M324.3 345.6L317.6 338.7L327.2 337.7"/>
<path d="M354.6 345.6L336.1 338.8M342.6 345.6L336.1 338.8L345.5 337.8"/>
<path d="M372.8 345.6L355.8 340.1M361.9 346.0L355.8 340.1L364.3 338.9"/>
<path d="M390.9 345.6L373.5 340.9M380.1 346.6L373.5 340.9L382.0 339.3"/>
<path d="M409.1 345.6L390.8 343.7M398.3 348.3L390.8 343.7L399.1 340.6"/>
<path d="M427.3 345.6L409.0 343.7M416.5 348.4L409.0 343.7L417.3 340.7"/>
<path d="M445.5 345.6L427.1 344.4M434.8 348.8L427.1 344.4L435.3 341.0"/>
<path d="M463.6 345.6L443.8 344.8M452.2 349.3L443.8 344.8L452.5 340.9"/>
<path d="M481.8 345.6L461.2 344.5M469.9 349.3L461.2 344.5L470.3 340.6"/>
<path d="M500.0 345.6L479.9 343.7M488.2 348.7L479.9 343.7L489.0 340.3"/>
<path d="M518.2 345.6L498.8 343.2M506.6 348.3L498.8 343.2L507.6 340.1"/>
<path d="M536.3 345.6L517.0 343.7M524.9 348.6L517.0 343.7L525.7 340.4"/>
<path d="M554.5 345.6L535.2 344.3M543.2 348.9L535.2 344.3L543.8 340.8"/>
<path d="M572.7 345.6L553.4 344.2M561.4 348.8L553.4 344.2L562.0 340.7"/>
<path d="M590.9 345.6L571.7 343.8M579.6 348.6L571.7 343.8L580.3 340.5"/>
<path d="M609.0 345.6L589.9 343.3M597.7 348.3L589.9 343.3L598.6 340.3"/>
<path d="M627.2 345.6L609.6 343.1M616.6 347.9L609.6 343.1L617.7 340.5"/>
<path d="M645.4 345.6L627.7 343.1M634.8 347.9L627.7 343.1L635.8 340.5"/>
<path d="M663.6 345.6L646.2 343.7M653.3 348.2L646.2 343.7L654.1 340.8"/>
<path d="M681.7 345.6L664.9 343.7M671.8 348.0L664.9 343.7L672.6 341.0"/>
<path d="M699.9 345.6L682.6 343.1M689.5 347.8L682.6 343.1L690.6 340.5"/>
<path d="M718.1 345.6L700.3 343.0M707.4 347.9L700.3 343.0L708.5 340.4"/>
<path d="M736.2 345.6L719.3 343.5M726.2 347.9L719.3 343.5L727.1 340.8"/>
<path d="M754.4 345.6L737.7 344.0M744.6 348.2L737.7 344.0L745.3 341.1"/>
<path d="M772.6 345.6L756.6 343.8M763.1 347.9L756.6 343.8L763.9 341.2"/>
<path d="M790.8 345.6L773.8 343.2M780.6 347.8L773.8 343.2L781.6 340.6"/>
<path d="M300.1 363.8L283.0 360.1M289.6 365.3L283.0 360.1L291.1 358.1"/>
<path d="M318.2 363.8L300.9 359.8M307.6 365.1L300.9 359.8L309.2 357.8"/>
<path d="M336.4 363.8L318.8 360.0M325.6 365.3L318.8 360.0L327.2 357.9"/>
<path d="M354.6 363.8L337.1 360.7M344.0 365.7L337.1 360.7L345.3 358.3"/>
<path d="M372.8 363.8L355.6 360.9M362.4 365.7L355.6 360.9L363.6 358.5"/>
<path d="M390.9 363.8L373.9 361.4M380.7 366.0L373.9 361.4L381.7 358.8"/>
<path d="M409.1 363.8L391.8 361.9M398.9 366.4L391.8 361.9L399.7 359.1"/>
<path d="M427.3 363.8L409.9 362.3M417.1 366.6L409.9 362.3L417.7 359.2"/>
<path d="M445.5 363.8L427.8 362.9M435.2 367.0L427.8 362.9L435.6 359.6"/>
<path d="M463.6 363.8L445.3 363.3M453.1 367.3L445.3 363.3L453.3 359.6"/>
<path d="M481.8 363.8L463.1 362.9M471.0 367.2L463.1 362.9L471.3 359.3"/>
<path d="M500.0 363.8L481.8 362.2M489.3 366.7L481.8 362.2L490.0 359.1"/>
<path d="M518.2 363.8L500.2 361.9M507.6 366.4L500.2 361.9L508.4 358.9"/>
<path d="M536.3 363.8L518.4 362.2M525.8 366.6L518.4 362.2L526.5 359.1"/>
<path d="M554.5 363.8L536.6 362.5M544.1 366.8L536.6 362.5L544.6 359.3"/>
<path d="M572.7 363.8L554.8 362.3M562.2 366.7L554.8 362.3L562.8 359.2"/>
<path d="M590.9 363.8L573.2 361.5M580.3 366.2L573.2 361.5L581.3 358.8"/>
<path d="M609.0 363.8L591.5 360.6M598.4 365.6L591.5 360.6L599.7 358.3"/>
<path d="M627.2 363.8L610.7 360.2M617.1 365.2L610.7 360.2L618.6 358.3"/>
<path d="M645.4 363.8L628.7 360.6M635.2 365.5L628.7 360.6L636.5 358.4"/>
<path d="M663.6 363.8L646.6 361.2M653.4 365.9L646.6 361.2L654.5 358.7"/>
<path d="M681.7 363.8L664.8 361.2M671.6 365.9L664.8 361.2L672.6 358.8"/>
<path d="M699.9 363.8L683.4 360.9M689.9 365.6L683.4 360.9L691.1 358.7"/>
<path d="M718.1 363.8L699.8 359.9M706.9 365.4L699.8 359.9L708.5 357.7"/>
<path d="M736.2 363.8L719.0 360.7M725.8 365.6L719.0 360.7L727.1 358.4"/>
<path d="M754.4 363.8L737.4 361.8M744.3 366.3L737.4 361.8L745.1 359.1"/>
<path d="M772.6 363.8L754.8 361.5M762.0 366.2L754.8 361.5L763.0 358.7"/>
<path d="M790.8 363.8L774.0 360.2M780.5 365.3L774.0 360.2L782.0 358.2"/>
<path d="M281.9 381.9L271.5 381.4M275.9 383.8L271.5 381.4L276.1 379.4"/>
<path d="M300.1 381.9L283.4 381.3M290.5 385.1L283.4 381.3L290.7 378.1"/>
<path d="M318.2 381.9L301.4 381.1M308.5 385.0L301.4 381.1L308.8 377.9"/>
<path d="M336.4 381.9L319.4 381.3M326.6 385.1L319.4 381.3L326.9 378.0"/>
<path d="M354.6 381.9L337.7 381.3M344.9 385.1L337.7 381.3L345.1 378.0"/>
<path d="M372.8 381.9L356.1 381.1M363.1 384.9L356.1 381.1L363.5 377.9"/>
<path d="M390.9 381.9L374.3 381.3M381.4 385.1L374.3 381.3L381.6 378.1"/>
<path d="M409.1 381.9L392.5 380.5M399.3 384.6L392.5 380.5L399.9 377.6"/>
<path d="M427.3 381.9L410.4 380.9M417.5 384.9L410.4 380.9L417.9 377.8"/>
<path d="M445.5 381.9L428.4 381.6M435.7 385.3L428.4 381.6L435.8 378.1"/>
<path d="M463.6 381.9L446.5 381.8M453.8 385.5L446.5 381.8L453.9 378.2"/>
<path d="M481.8 381.9L464.6 381.3M471.9 385.2L464.6 381.3L472.1 377.9"/>
<path d="M500.0 381.9L482.9 380.6M490.0 384.8L482.9 380.6L490.5 377.6"/>
<path d="M518.2 381.9L501.2 380.4M508.2 384.7L501.2 380.4L508.8 377.5"/>
<path d="M536.3 381.9L519.4 380.6M526.4 384.7L519.4 380.6L527.0 377.6"/>
<path d="M554.5 381.9L537.5 380.8M544.6 384.8L537.5 380.8L545.1 377.7"/>
<path d="M572.7 381.9L555.8 380.3M562.7 384.5L555.8 380.3L563.4 377.4"/>
<path d="M590.9 381.9L574.2 379.4M580.9 384.0L574.2 379.4L581.9 377.0"/>
<path d="M609.0 381.9L592.7 378.2M598.9 383.2L592.7 378.2L600.5 376.3"/>
<path d="M627.2 381.9L610.9 377.6M617.0 382.9L610.9 377.6L618.9 376.0"/>
<path d="M645.4 381.9L628.9 378.0M635.2 383.2L628.9 378.0L636.8 376.2"/>
<path d="M663.6 381.9L646.8 378.8M653.4 383.6L646.8 378.8L654.7 376.6"/>
<path d="M681.7 381.9L665.9 378.8M672.1 383.5L665.9 378.8L673.4 376.8"/>
<path d="M699.9 381.9L683.7 378.2M689.9 383.2L683.7 378.2L691.5 376.4"/>
<path d="M718.1 381.9L702.3 378.0M708.2 383.0L702.3 378.0L709.9 376.4"/>
<path d="M736.2 381.9L719.5 378.8M726.1 383.6L719.5 378.8L727.4 376.6"/>
<path d="M754.4 381.9L737.8 380.4M744.6 384.5L737.8 380.4L745.3 377.5"/>
<path d="M772.6 381.9L756.7 380.5M763.3 384.5L756.7 380.5L763.8 377.8"/>
<path d="M790.8 381.9L773.9 379.9M780.8 384.3L773.9 379.9L781.6 377.2"/>
<path d="M281.9 400.1L271.5 400.1M276.0 402.3L271.5 400.1L276.0 397.9"/>
<path d="M300.1 400.1L284.6 401.7M291.6 404.2L284.6 401.7L290.9 397.7"/>
<path d="M318.2 400.1L302.9 401.9M309.9 404.3L302.9 401.9L309.1 397.9"/>
<path d="M336.4 400.1L321.1 400.1M327.7 403.3L321.1 400.1L327.7 396.9"/>
<path d="M354.6 400.1L339.0 400.9M345.9 403.8L339.0 400.9L345.6 397.3"/>
<path d="M372.8 400.1L356.9 400.6M363.9 403.7L356.9 400.6L363.7 397.1"/>
<path d="M390.9 400.1L375.1 400.1M381.9 403.4L375.1 400.1L381.9 396.8"/>
<path d="M409.1 400.1L393.2 398.7M399.8 402.7L393.2 398.7L400.4 396.0"/>
<path d="M427.3 400.1L411.1 399.3M417.9 403.1L411.1 399.3L418.2 396.2"/>
<path d="M445.5 400.1L429.1 400.2M436.1 403.6L429.1 400.2L436.1 396.7"/>
<path d="M463.6 400.1L447.3 400.2M454.4 403.6L447.3 400.2L454.3 396.7"/>
<path d="M481.8 400.1L465.6 399.2M472.4 403.0L465.6 399.2L472.8 396.2"/>
<path d="M500.0 400.1L483.8 398.5M490.5 402.6L483.8 398.5L491.1 395.8"/>
<path d="M518.2 400.1L502.0 398.7M508.7 402.7L502.0 398.7L509.3 395.9"/>
<path d="M536.3 400.1L520.3 398.9M527.0 402.8L520.3 398.9L527.5 396.1"/>
<path d="M554.5 400.1L538.6 398.9M545.2 402.8L538.6 398.9L545.7 396.1"/>
<path d="M572.7 400.1L557.0 398.0M563.3 402.2L557.0 398.0L564.2 395.6"/>
<path d="M590.9 400.1L575.4 397.2M581.5 401.7L575.4 397.2L582.7 395.2"/>
<path d="M609.0 400.1L592.9 395.8M598.9 401.1L592.9 395.8L600.8 394.3"/>
<path d="M627.2 400.1L611.4 394.4M617.0 400.2L611.4 394.4L619.4 393.5"/>
<path d="M645.4 400.1L629.1 395.5M635.2 400.9L629.1 395.5L637.1 394.1"/>
<path d="M663.6 400.1L647.0 396.4M653.4 401.5L647.0 396.4L654.9 394.5"/>
<path d="M681.7 400.1L666.1 396.2M672.0 401.2L666.1 396.2L673.7 394.6"/>
<path d="M699.9 400.1L684.0 395.8M690.0 401.0L684.0 395.8L691.8 394.3"/>
<path d="M718.1 400.1L703.1 396.5M708.8 401.2L703.1 396.5L710.3 394.9"/>
<path d="M736.2 400.1L722.2 397.9M727.8 401.8L722.2 397.9L728.7 395.9"/>
<path d="M754.4 400.1L738.7 399.1M745.3 402.8L738.7 399.1L745.7 396.2"/>
<path d="M772.6 400.1L757.1 399.6M763.7 403.1L757.1 399.6L763.9 396.5"/>
<path d="M790.8 400.1L775.6 399.3M782.0 402.9L775.6 399.3L782.3 396.5"/>
<path d="M300.1 418.3L288.2 422.6M294.2 423.2L288.2 422.6L292.4 418.2"/>
<path d="M318.2 418.3L305.2 421.8M311.6 423.0L305.2 421.8L310.1 417.5"/>
<path d="M336.4 418.3L323.6 420.5M329.6 422.3L323.6 420.5L328.6 416.9"/>
<path d="M354.6 418.3L340.3 419.5M346.7 422.0L340.3 419.5L346.2 416.0"/>
<path d="M372.8 418.3L358.1 420.3M364.9 422.5L358.1 420.3L364.0 416.3"/>
<path d="M390.9 418.3L376.4 419.5M382.9 422.1L376.4 419.5L382.4 415.9"/>
<path d="M409.1 418.3L394.7 415.7M400.4 419.9L394.7 415.7L401.5 413.8"/>
<path d="M427.3 418.3L412.4 417.5M418.7 421.0L412.4 417.5L419.0 414.7"/>
<path d="M445.5 418.3L430.5 418.8M437.0 421.7L430.5 418.8L436.8 415.4"/>
<path d="M463.6 418.3L448.7 418.6M455.2 421.6L448.7 418.6L455.1 415.3"/>
<path d="M481.8 418.3L467.1 416.9M473.1 420.6L467.1 416.9L473.7 414.4"/>
<path d="M500.0 418.3L485.1 415.7M491.0 419.9L485.1 415.7L492.1 413.7"/>
<path d="M518.2 418.3L503.0 416.7M509.2 420.6L503.0 416.7L509.9 414.2"/>
<path d="M536.3 418.3L521.6 417.4M527.8 420.9L521.6 417.4L528.1 414.7"/>
<path d="M554.5 418.3L540.4 416.9M546.2 420.5L540.4 416.9L546.7 414.5"/>
<path d="M572.7 418.3L558.8 415.9M564.3 419.8L558.8 415.9L565.3 414.0"/>
<path d="M590.9 418.3L577.0 415.3M582.4 419.5L577.0 415.3L583.6 413.7"/>
<path d="M609.0 418.3L593.8 414.4M599.6 419.3L593.8 414.4L601.2 412.9"/>
<path d="M627.2 418.3L611.5 412.6M617.1 418.3L611.5 412.6L619.5 411.7"/>
<path d="M645.4 418.3L629.2 413.6M635.2 419.0L629.2 413.6L637.2 412.2"/>
<path d="M663.6 418.3L648.0 414.5M653.9 419.4L648.0 414.5L655.5 412.9"/>
<path d="M681.7 418.3L666.3 413.8M672.0 419.0L666.3 413.8L673.9 412.5"/>
<path d="M699.9 418.3L685.8 413.2M690.8 418.3L685.8 413.2L693.0 412.4"/>
<path d="M718.1 418.3L703.2 414.1M708.8 419.0L703.2 414.1L710.5 412.8"/>
<path d="M736.2 418.3L722.2 416.2M727.8 420.0L722.2 416.2L728.7 414.1"/>
<path d="M754.4 418.3L740.4 417.6M746.3 420.8L740.4 417.6L746.6 414.9"/>
<path d="M772.6 418.3L758.8 417.8M764.7 420.9L758.8 417.8L764.9 415.1"/>
<path d="M790.8 418.3L777.2 417.9M783.0 420.9L777.2 417.9L783.1 415.2"/>
<path d="M336.4 436.5L324.6 441.9M330.9 442.0L324.6 441.9L328.5 437.1"/>
<path d="M354.6 436.5L341.4 441.2M348.1 441.9L341.4 441.2L346.1 436.4"/>
<path d="M372.8 436.5L359.5 440.0M366.0 441.2L359.5 440.0L364.5 435.7"/>
<path d="M390.9 436.5L377.7 436.5M383.4 439.2L377.7 436.5L383.4 433.7"/>
<path d="M409.1 436.5L394.9 433.4M400.4 437.7L394.9 433.4L401.6 431.7"/>
<path d="M427.3 436.5L414.0 436.1M419.7 439.0L414.0 436.1L419.8 433.5"/>
<path d="M445.5 436.5L432.1 437.5M438.1 439.9L432.1 437.5L437.6 434.3"/>
<path d="M463.6 436.5L450.3 437.3M456.2 439.7L450.3 437.3L455.9 434.1"/>
<path d="M481.8 436.5L468.4 435.3M474.0 438.6L468.4 435.3L474.4 433.0"/>
<path d="M500.0 436.5L486.5 433.6M491.7 437.7L486.5 433.6L492.9 432.0"/>
<path d="M518.2 436.5L504.2 435.0M509.9 438.6L504.2 435.0L510.5 432.7"/>
<path d="M536.3 436.5L521.5 435.9M527.8 439.2L521.5 435.9L528.0 433.0"/>
<path d="M554.5 436.5L541.0 434.8M546.5 438.4L541.0 434.8L547.1 432.7"/>
<path d="M572.7 436.5L559.4 433.6M564.5 437.6L559.4 433.6L565.7 432.1"/>
<path d="M590.9 436.5L577.1 434.1M582.5 438.0L577.1 434.1L583.5 432.2"/>
<path d="M609.0 436.5L595.0 433.4M600.4 437.7L595.0 433.4L601.7 431.8"/>
<path d="M627.2 436.5L612.3 431.0M617.6 436.5L612.3 431.0L619.9 430.2"/>
<path d="M645.4 436.5L630.7 432.3M636.2 437.2L630.7 432.3L637.9 431.0"/>
<path d="M663.6 436.5L648.1 432.0M653.8 437.2L648.1 432.0L655.7 430.7"/>
<path d="M681.7 436.5L666.2 431.5M671.9 436.9L666.2 431.5L674.0 430.4"/>
<path d="M699.9 436.5L684.2 430.7M689.8 436.5L684.2 430.7L692.2 429.9"/>
<path d="M718.1 436.5L701.8 431.1M707.7 436.9L701.8 431.1L709.9 430.0"/>
<path d="M736.2 436.5L720.5 433.5M726.7 438.1L720.5 433.5L727.9 431.5"/>
<path d="M754.4 436.5L740.2 436.0M746.3 439.2L740.2 436.0L746.4 433.2"/>
<path d="M772.6 436.5L758.8 436.5M764.8 439.3L758.8 436.5L764.8 433.6"/>
<path d="M790.8 436.5L777.3 436.7M783.2 439.4L777.3 436.7L783.1 433.8"/>
<path d="M336.4 454.6L325.1 462.0M331.5 461.2L325.1 462.0L328.4 456.4"/>
<path d="M354.6 454.6L341.9 460.5M348.6 460.7L341.9 460.5L346.1 455.3"/>
<path d="M372.8 454.6L359.8 458.6M366.2 459.6L359.8 458.6L364.6 454.2"/>
<path d="M390.9 454.6L377.9 456.2M383.8 458.3L377.9 456.2L383.2 452.8"/>
<path d="M409.1 454.6L396.2 453.5M401.5 456.7L396.2 453.5L402.0 451.3"/>
<path d="M427.3 454.6L414.3 455.4M420.1 457.8L414.3 455.4L419.7 452.3"/>
<path d="M445.5 454.6L432.4 456.7M438.5 458.5L432.4 456.7L437.6 453.1"/>
<path d="M463.6 454.6L450.3 456.4M456.4 458.4L450.3 456.4L455.7 452.8"/>
<path d="M481.8 454.6L468.2 454.6M474.1 457.5L468.2 454.6L474.1 451.7"/>
<path d="M500.0 454.6L486.4 453.4M492.0 456.8L486.4 453.4L492.5 451.1"/>
<path d="M518.2 454.6L504.5 454.2M510.3 457.3L504.5 454.2L510.5 451.5"/>
<path d="M536.3 454.6L523.8 454.7M529.2 457.3L523.8 454.7L529.2 452.0"/>
<path d="M554.5 454.6L542.5 453.7M547.5 456.6L542.5 453.7L547.9 451.6"/>
<path d="M572.7 454.6L560.8 453.0M565.6 456.2L560.8 453.0L566.3 451.2"/>
<path d="M590.9 454.6L578.4 453.2M583.5 456.4L578.4 453.2L584.1 451.2"/>
<path d="M609.0 454.6L596.1 453.0M601.4 456.4L596.1 453.0L602.0 451.0"/>
<path d="M627.2 454.6L614.1 451.1M619.0 455.4L614.1 451.1L620.5 449.9"/>
<path d="M645.4 454.6L634.9 451.4M638.7 455.0L634.9 451.4L640.1 450.6"/>
<path d="M663.6 454.6L650.4 449.8M655.1 454.7L650.4 449.8L657.1 449.1"/>
<path d="M681.7 454.6L668.2 449.2M672.9 454.4L668.2 449.2L675.2 448.7"/>
<path d="M699.9 454.6L685.2 449.6M690.5 454.9L685.2 449.6L692.6 448.7"/>
<path d="M718.1 454.6L704.0 448.1M708.7 453.9L704.0 448.1L711.5 447.9"/>
<path d="M736.2 454.6L722.6 451.3M727.8 455.6L722.6 451.3L729.2 449.9"/>
<path d="M754.4 454.6L740.5 454.0M746.4 457.2L740.5 454.0L746.7 451.4"/>
<path d="M772.6 454.6L759.1 455.8M765.2 458.1L759.1 455.8L764.7 452.5"/>
<path d="M790.8 454.6L776.1 456.4M782.8 458.7L776.1 456.4L782.1 452.6"/>
<path d="M336.4 472.8L325.7 480.0M331.9 479.1L325.7 480.0L328.8 474.6"/>
<path d="M354.6 472.8L343.7 479.1M349.7 478.6L343.7 479.1L347.1 474.1"/>
<path d="M372.8 472.8L361.1 478.2M367.3 478.3L361.1 478.2L365.0 473.4"/>
<path d="M390.9 472.8L378.5 476.1M384.6 477.3L378.5 476.1L383.2 472.1"/>
<path d="M409.1 472.8L396.4 472.8M401.9 475.5L396.4 472.8L401.9 470.1"/>
<path d="M427.3 472.8L417.1 474.6M421.9 476.0L417.1 474.6L421.1 471.7"/>
<path d="M445.5 472.8L435.1 475.3M440.1 476.4L435.1 475.3L439.1 472.1"/>
<path d="M463.6 472.8L452.5 475.0M457.8 476.4L452.5 475.0L456.9 471.7"/>
<path d="M481.8 472.8L470.1 473.9M475.4 475.9L470.1 473.9L474.9 471.0"/>
<path d="M500.0 472.8L488.5 472.8M493.5 475.2L488.5 472.8L493.5 470.4"/>
<path d="M518.2 472.8L507.3 473.2M512.0 475.3L507.3 473.2L511.9 470.7"/>
<path d="M536.3 472.8L526.1 473.4M530.6 475.3L526.1 473.4L530.4 471.0"/>
<path d="M554.5 472.8L544.6 472.8M548.8 474.9L544.6 472.8L548.8 470.7"/>
<path d="M572.7 472.8L562.7 472.5M567.0 474.7L562.7 472.5L567.1 470.5"/>
<path d="M590.9 472.8L580.8 472.4M585.0 474.7L580.8 472.4L585.2 470.4"/>
<path d="M609.0 472.8L598.9 472.1M603.1 474.5L598.9 472.1L603.4 470.2"/>
<path d="M627.2 472.8L616.9 471.5M621.1 474.2L616.9 471.5L621.6 469.9"/>
<path d="M645.4 472.8L635.3 472.4M639.6 474.7L635.3 472.4L639.7 470.5"/>
<path d="M663.6 472.8L653.1 470.8M657.2 473.9L653.1 470.8L658.0 469.5"/>
<path d="M681.7 472.8L671.5 470.3M675.4 473.6L671.5 470.3L676.4 469.2"/>
<path d="M699.9 472.8L689.6 469.1M693.3 472.8L689.6 469.1L694.8 468.5"/>
<path d="M718.1 472.8L704.9 469.1M709.8 473.5L704.9 469.1L711.4 467.9"/>
<path d="M736.2 472.8L722.8 470.6M728.2 474.4L722.8 470.6L729.1 468.7"/>
<path d="M754.4 472.8L741.2 470.5M746.4 474.3L741.2 470.5L747.4 468.7"/>
<path d="M772.6 472.8L759.4 473.6M765.3 476.0L759.4 473.6L764.9 470.5"/>
<path d="M790.8 472.8L776.8 476.5M783.6 477.9L776.8 476.5L782.0 472.0"/>
<path d="M318.2 491.0L309.4 500.4M315.2 498.2L309.4 500.4L311.2 494.5"/>
<path d="M336.4 491.0L327.0 499.5M332.8 497.8L327.0 499.5L329.3 493.8"/>
<path d="M354.6 491.0L344.3 498.1M350.3 497.2L344.3 498.1L347.2 492.9"/>
<path d="M372.8 491.0L361.8 497.3M367.9 496.9L361.8 497.3L365.2 492.3"/>
<path d="M390.9 491.0L379.5 496.3M385.5 496.4L379.5 496.3L383.3 491.6"/>
<path d="M409.1 491.0L397.1 494.2M403.0 495.3L397.1 494.2L401.6 490.3"/>
<path d="M427.3 491.0L417.8 494.3M422.6 494.9L417.8 494.3L421.2 490.9"/>
<path d="M445.5 491.0L435.6 494.1M440.5 494.8L435.6 494.1L439.2 490.7"/>
<path d="M463.6 491.0L454.3 492.6M458.7 493.9L454.3 492.6L458.0 489.9"/>
<path d="M481.8 491.0L472.0 492.8M476.6 494.1L472.0 492.8L475.8 489.9"/>
<path d="M500.0 491.0L488.1 492.0M493.4 494.0L488.1 492.0L493.0 489.0"/>
<path d="M518.2 491.0L506.9 491.0M511.7 493.4L506.9 491.0L511.7 488.6"/>
<path d="M536.3 491.0L525.8 491.7M530.5 493.6L525.8 491.7L530.2 489.2"/>
<path d="M554.5 491.0L544.3 491.9M548.9 493.6L544.3 491.9L548.5 489.3"/>
<path d="M572.7 491.0L562.6 491.4M567.0 493.3L562.6 491.4L566.8 489.1"/>
<path d="M590.9 491.0L581.0 491.3M585.3 493.2L581.0 491.3L585.2 489.1"/>
<path d="M609.0 491.0L599.5 491.0M603.6 493.0L599.5 491.0L603.6 489.0"/>
<path d="M627.2 491.0L616.9 490.9M621.3 493.1L616.9 490.9L621.4 488.8"/>
<path d="M645.4 491.0L635.0 490.6M639.4 492.9L635.0 490.6L639.6 488.6"/>
<path d="M663.6 491.0L653.4 490.2M657.6 492.7L653.4 490.2L658.0 488.4"/>
<path d="M681.7 491.0L671.8 490.1M675.9 492.6L671.8 490.1L676.2 488.4"/>
<path d="M699.9 491.0L689.8 489.4M693.8 492.2L689.8 489.4L694.5 487.9"/>
<path d="M718.1 491.0L707.9 488.2M711.7 491.6L707.9 488.2L712.8 487.3"/>
<path d="M736.2 491.0L725.7 489.7M730.0 492.5L725.7 489.7L730.5 488.0"/>
<path d="M754.4 491.0L741.5 489.8M746.8 493.1L741.5 489.8L747.3 487.6"/>
<path d="M772.6 491.0L759.8 492.2M765.5 494.4L759.8 492.2L765.0 488.9"/>
<path d="M790.8 491.0L777.4 495.8M784.2 496.6L777.4 495.8L782.2 490.9"/>
<path d="M300.1 509.2L288.2 519.9M295.5 517.7L288.2 519.9L291.0 512.7"/>
<path d="M318.2 509.2L307.4 518.9M314.1 516.9L307.4 518.9L310.0 512.4"/>
<path d="M336.4 509.2L326.2 519.3M332.7 517.1L326.2 519.3L328.5 512.8"/>
<path d="M354.6 509.2L344.8 517.4M350.7 515.9L344.8 517.4L347.3 511.8"/>
<path d="M372.8 509.2L362.3 516.5M368.3 515.5L362.3 516.5L365.2 511.1"/>
<path d="M390.9 509.2L380.1 515.4M386.1 515.0L380.1 515.4L383.4 510.4"/>
<path d="M409.1 509.2L398.0 514.3M403.9 514.4L398.0 514.3L401.7 509.8"/>
<path d="M427.3 509.2L418.2 513.4M423.0 513.5L418.2 513.4L421.2 509.6"/>
<path d="M445.5 509.2L436.0 512.6M440.8 513.1L436.0 512.6L439.4 509.1"/>
<path d="M463.6 509.2L455.2 511.4M459.3 512.2L455.2 511.4L458.3 508.7"/>
<path d="M481.8 509.2L472.4 510.8M476.8 512.1L472.4 510.8L476.1 508.1"/>
<path d="M500.0 509.2L490.0 509.2M494.3 511.3L490.0 509.2L494.3 507.0"/>
<path d="M518.2 509.2L508.8 510.3M513.1 511.8L508.8 510.3L512.6 507.8"/>
<path d="M536.3 509.2L527.6 509.2M531.4 511.0L527.6 509.2L531.4 507.3"/>
<path d="M554.5 509.2L546.1 510.0M549.9 511.4L546.1 510.0L549.5 507.9"/>
<path d="M572.7 509.2L564.5 510.5M568.3 511.7L564.5 510.5L567.7 508.2"/>
<path d="M590.9 509.2L580.9 510.5M585.4 512.0L580.9 510.5L584.9 507.8"/>
<path d="M609.0 509.2L600.6 509.6M604.3 511.1L600.6 509.6L604.2 507.6"/>
<path d="M627.2 509.2L618.2 509.2M622.1 511.0L618.2 509.2L622.1 507.3"/>
<path d="M645.4 509.2L634.8 509.5M639.5 511.5L634.8 509.5L639.3 507.1"/>
<path d="M663.6 509.2L653.7 509.2M657.9 511.3L653.7 509.2L657.9 507.1"/>
<path d="M681.7 509.2L672.2 508.8M676.2 511.0L672.2 508.8L676.4 507.0"/>
<path d="M699.9 509.2L690.1 508.8M694.3 511.0L690.1 508.8L694.4 506.9"/>
<path d="M718.1 509.2L707.9 508.3M712.1 510.8L707.9 508.3L712.5 506.5"/>
<path d="M736.2 509.2L725.9 508.7M730.3 511.1L725.9 508.7L730.4 506.7"/>
<path d="M754.4 509.2L744.1 508.8M748.5 511.1L744.1 508.8L748.6 506.8"/>
<path d="M772.6 509.2L760.0 510.2M765.7 512.4L760.0 510.2L765.2 507.1"/>
<path d="M790.8 509.2L777.0 511.6M783.5 513.4L777.0 511.6L782.5 507.6"/>
<path d="M281.9 527.3L269.7 539.5M277.5 536.8L269.7 539.5L272.4 531.7"/>
<path d="M300.1 527.3L288.3 538.2M295.6 536.0L288.3 538.2L291.1 531.0"/>
<path d="M318.2 527.3L308.0 537.6M314.6 535.3L308.0 537.6L310.2 531.0"/>
<path d="M336.4 527.3L325.5 537.5M332.3 535.4L325.5 537.5L328.1 530.8"/>
<path d="M354.6 527.3L344.5 537.4M351.0 535.1L344.5 537.4L346.8 530.9"/>
<path d="M372.8 527.3L362.2 535.8M368.5 534.4L362.2 535.8L365.0 529.9"/>
<path d="M390.9 527.3L381.1 535.0M387.0 533.7L381.1 535.0L383.7 529.6"/>
<path d="M409.1 527.3L400.9 532.1M405.4 531.7L400.9 532.1L403.4 528.3"/>
<path d="M427.3 527.3L419.1 531.9M423.6 531.7L419.1 531.9L421.6 528.2"/>
<path d="M445.5 527.3L436.4 531.6M441.2 531.6L436.4 531.6L439.4 527.8"/>
<path d="M463.6 527.3L456.1 530.4M460.0 530.7L456.1 530.4L458.7 527.5"/>
<path d="M481.8 527.3L473.6 529.5M477.6 530.3L473.6 529.5L476.7 526.9"/>
<path d="M500.0 527.3L491.5 528.1M495.3 529.5L491.5 528.1L495.0 526.0"/>
<path d="M518.2 527.3L509.7 528.8M513.6 530.0L509.7 528.8L513.0 526.4"/>
<path d="M536.3 527.3L528.0 529.2M532.0 530.1L528.0 529.2L531.2 526.6"/>
<path d="M554.5 527.3L546.1 527.3M549.7 529.1L546.1 527.3L549.7 525.6"/>
<path d="M572.7 527.3L564.6 529.2M568.5 530.1L564.6 529.2L567.7 526.7"/>
<path d="M590.9 527.3L582.7 529.3M586.7 530.2L582.7 529.3L585.8 526.8"/>
<path d="M609.0 527.3L600.6 528.3M604.4 529.6L600.6 528.3L604.0 526.1"/>
<path d="M627.2 527.3L618.7 527.3M622.4 529.1L618.7 527.3L622.4 525.5"/>
<path d="M645.4 527.3L636.9 528.0M640.7 529.5L636.9 528.0L640.4 525.9"/>
<path d="M663.6 527.3L654.2 528.3M658.4 529.8L654.2 528.3L658.0 525.9"/>
<path d="M681.7 527.3L673.2 527.6M677.0 529.3L673.2 527.6L676.8 525.7"/>
<path d="M699.9 527.3L690.6 527.0M694.5 529.1L690.6 527.0L694.7 525.2"/>
<path d="M718.1 527.3L707.9 527.5M712.4 529.6L707.9 527.5L712.3 525.3"/>
<path d="M736.2 527.3L725.9 527.8M730.5 529.8L725.9 527.8L730.2 525.4"/>
<path d="M754.4 527.3L744.2 527.9M748.7 529.8L744.2 527.9L748.5 525.5"/>
<path d="M772.6 527.3L760.3 528.4M765.8 530.5L760.3 528.4L765.4 525.3"/>
<path d="M790.8 527.3L778.6 529.0M784.2 530.8L778.6 529.0L783.5 525.7"/>
<path d="M263.7 545.5L249.5 556.2M257.9 554.5L249.5 556.2L253.4 548.6"/>
<path d="M281.9 545.5L269.7 556.3M277.2 554.2L269.7 556.3L272.7 549.1"/>
<path d="M300.1 545.5L288.7 556.9M296.0 554.4L288.7 556.9L291.2 549.6"/>
<path d="M318.2 545.5L307.8 555.9M314.5 553.6L307.8 555.9L310.1 549.2"/>
<path d="M336.4 545.5L325.9 557.2M332.9 554.4L325.9 557.2L328.0 549.9"/>
<path d="M354.6 545.5L343.8 556.0M350.7 553.7L343.8 556.0L346.3 549.2"/>
<path d="M372.8 545.5L362.7 555.5M369.2 553.3L362.7 555.5L364.9 549.1"/>
<path d="M390.9 545.5L384.4 553.2M388.9 551.3L384.4 553.2L385.6 548.5"/>
<path d="M409.1 545.5L402.4 551.1M406.5 550.1L402.4 551.1L404.1 547.3"/>
<path d="M427.3 545.5L421.0 550.4M424.7 549.6L421.0 550.4L422.7 547.0"/>
<path d="M445.5 545.5L439.8 550.2M443.2 549.4L439.8 550.2L441.2 547.0"/>
<path d="M463.6 545.5L457.3 549.9M460.9 549.3L457.3 549.9L459.1 546.7"/>
<path d="M481.8 545.5L475.6 549.9M479.2 549.3L475.6 549.9L477.3 546.7"/>
<path d="M500.0 545.5L493.8 548.9M497.2 548.7L493.8 548.9L495.8 546.1"/>
<path d="M518.2 545.5L513.4 549.5M516.3 548.8L513.4 549.5L514.6 546.8"/>
<path d="M536.3 545.5L530.8 548.6M533.8 548.5L530.8 548.6L532.5 546.1"/>
<path d="M554.5 545.5L548.8 547.6M551.7 547.9L548.8 547.6L550.8 545.5"/>
<path d="M572.7 545.5L567.3 548.1M570.2 548.1L567.3 548.1L569.1 545.9"/>
<path d="M590.9 545.5L585.2 547.3M588.0 547.7L585.2 547.3L587.2 545.3"/>
<path d="M609.0 545.5L603.0 546.0M605.7 547.1L603.0 546.0L605.5 544.5"/>
<path d="M627.2 545.5L621.1 546.4M623.9 547.3L621.1 546.4L623.5 544.7"/>
<path d="M645.4 545.5L636.7 546.7M640.7 548.0L636.7 546.7L640.2 544.3"/>
<path d="M663.6 545.5L655.6 546.7M659.3 547.9L655.6 546.7L658.8 544.5"/>
<path d="M681.7 545.5L674.0 546.2M677.5 547.5L674.0 546.2L677.2 544.3"/>
<path d="M699.9 545.5L691.5 546.2M695.3 547.7L691.5 546.2L695.0 544.2"/>
<path d="M718.1 545.5L709.5 546.3M713.4 547.8L709.5 546.3L713.0 544.1"/>
<path d="M736.2 545.5L725.4 546.9M730.4 548.6L725.4 546.9L729.8 544.0"/>
<path d="M754.4 545.5L744.2 546.7M748.9 548.3L744.2 546.7L748.4 544.0"/>
<path d="M772.6 545.5L762.9 546.3M767.3 548.0L762.9 546.3L766.9 543.9"/>
<path d="M790.8 545.5L781.1 546.7M785.5 548.2L781.1 546.7L785.0 544.1"/>
<path d="M245.5 563.7L232.3 571.9M239.7 571.2L232.3 571.9L236.3 565.6"/>
<path d="M263.7 563.7L250.7 575.4M258.8 573.1L250.7 575.4L253.8 567.6"/>
<path d="M281.9 563.7L271.0 573.9M277.8 571.8L271.0 573.9L273.5 567.2"/>
<path d="M300.1 563.7L291.7 575.6M297.8 572.2L291.7 575.6L292.8 568.7"/>
<path d="M318.2 563.7L308.5 574.7M315.0 572.0L308.5 574.7L310.4 567.9"/>
<path d="M336.4 563.7L328.4 575.0M334.3 571.8L328.4 575.0L329.5 568.5"/>
<path d="M354.6 563.7L345.0 574.2M351.4 571.7L345.0 574.2L346.9 567.6"/>
<path d="M372.8 563.7L365.6 572.2M370.5 570.0L365.6 572.2L366.9 567.0"/>
<path d="M390.9 563.7L385.1 571.9M389.4 569.6L385.1 571.9L385.9 567.2"/>
<path d="M409.1 563.7L403.2 570.7M407.2 568.9L403.2 570.7L404.3 566.4"/>
<path d="M427.3 563.7L422.3 568.9M425.5 567.7L422.3 568.9L423.4 565.6"/>
<path d="M445.5 563.7L441.0 569.0M444.0 567.7L441.0 569.0L441.8 565.8"/>
<path d="M463.6 563.7L458.5 568.9M461.8 567.7L458.5 568.9L459.6 565.5"/>
<path d="M481.8 563.7L477.9 567.6M480.4 566.7L477.9 567.6L478.8 565.1"/>
<path d="M500.0 563.7L495.9 567.9M498.5 566.9L495.9 567.9L496.8 565.2"/>
<path d="M518.2 563.7L513.3 569.4M516.6 568.0L513.3 569.4L514.2 565.9"/>
<path d="M536.3 563.7L531.6 568.4M534.6 567.3L531.6 568.4L532.6 565.3"/>
<path d="M554.5 563.7L550.2 567.9M553.0 567.0L550.2 567.9L551.2 565.2"/>
<path d="M572.7 563.7L567.6 566.6M570.4 566.4L567.6 566.6L569.2 564.3"/>
<path d="M590.9 563.7L585.6 566.3M588.4 566.3L585.6 566.3L587.3 564.1"/>
<path d="M609.0 563.7L603.1 564.7M605.9 565.5L603.1 564.7L605.4 563.0"/>
<path d="M627.2 563.7L621.2 565.2M624.1 565.8L621.2 565.2L623.5 563.3"/>
<path d="M645.4 563.7L638.4 563.7M641.4 565.1L638.4 563.7L641.4 562.2"/>
<path d="M663.6 563.7L656.0 564.8M659.5 565.9L656.0 564.8L659.0 562.7"/>
<path d="M681.7 563.7L673.7 563.7M677.2 565.4L673.7 563.7L677.2 562.0"/>
<path d="M699.9 563.7L691.0 564.8M695.1 566.2L691.0 564.8L694.6 562.4"/>
<path d="M718.1 563.7L709.3 564.1M713.2 565.8L709.3 564.1L713.0 562.1"/>
<path d="M736.2 563.7L726.9 565.2M731.2 566.5L726.9 565.2L730.6 562.6"/>
<path d="M754.4 563.7L746.1 565.1M750.0 566.2L746.1 565.1L749.4 562.7"/>
<path d="M772.6 563.7L763.1 564.5M767.4 566.1L763.1 564.5L767.0 562.2"/>
<path d="M790.8 563.7L781.2 565.2M785.7 566.6L781.2 565.2L785.0 562.6"/>
<path d="M209.2 581.9L191.3 587.9M200.3 589.1L191.3 587.9L197.7 581.5"/>
<path d="M227.4 581.9L209.0 586.8M217.9 588.5L209.0 586.8L215.9 580.8"/>
<path d="M245.5 581.9L229.9 589.2M238.2 589.3L229.9 589.2L235.1 582.7"/>
<path d="M263.7 581.9L249.0 592.2M257.5 590.8L249.0 592.2L253.1 584.6"/>
<path d="M281.9 581.9L271.4 593.5M278.4 590.7L271.4 593.5L273.5 586.3"/>
<path d="M300.1 581.9L289.8 592.5M296.5 590.1L289.8 592.5L292.0 585.8"/>
<path d="M318.2 581.9L309.7 594.1M315.9 590.6L309.7 594.1L310.8 587.0"/>
<path d="M336.4 581.9L327.2 592.2M333.4 589.6L327.2 592.2L329.0 585.8"/>
<path d="M354.6 581.9L346.5 593.3M352.4 590.1L346.5 593.3L347.6 586.7"/>
<path d="M372.8 581.9L365.2 589.9M370.1 588.0L365.2 589.9L366.7 584.9"/>
<path d="M390.9 581.9L384.2 589.3M388.7 587.5L384.2 589.3L385.5 584.7"/>
<path d="M409.1 581.9L405.3 588.5M408.3 586.4L405.3 588.5L405.5 584.8"/>
<path d="M427.3 581.9L424.0 586.3M426.3 585.0L424.0 586.3L424.5 583.7"/>
<path d="M445.5 581.9L442.9 586.3M444.9 584.9L442.9 586.3L443.1 583.8"/>
<path d="M463.6 581.9L460.7 586.2M462.9 584.9L460.7 586.2L461.1 583.7"/>
<path d="M481.8 581.9L478.7 586.2M481.0 585.0L478.7 586.2L479.1 583.7"/>
<path d="M500.0 581.9L497.5 586.2M499.5 584.8L497.5 586.2L497.7 583.8"/>
<path d="M518.2 581.9L516.7 585.8M518.2 584.4L516.7 585.8L516.5 583.8"/>
<path d="M536.3 581.9L533.2 587.0M535.6 585.5L533.2 587.0L533.4 584.1"/>
<path d="M554.5 581.9L551.2 586.6M553.6 585.2L551.2 586.6L551.6 583.8"/>
<path d="M572.7 581.9L568.4 585.4M571.0 584.8L568.4 585.4L569.5 583.0"/>
<path d="M590.9 581.9L586.4 585.3M589.1 584.8L586.4 585.3L587.6 582.9"/>
<path d="M609.0 581.9L603.9 583.7M606.5 584.0L603.9 583.7L605.7 581.8"/>
<path d="M627.2 581.9L621.9 584.7M624.8 584.6L621.9 584.7L623.6 582.3"/>
<path d="M645.4 581.9L639.0 582.2M641.8 583.4L639.0 582.2L641.7 580.7"/>
<path d="M663.6 581.9L657.9 583.5M660.7 584.0L657.9 583.5L660.0 581.6"/>
<path d="M681.7 581.9L674.8 582.5M677.9 583.7L674.8 582.5L677.6 580.7"/>
<path d="M699.9 581.9L691.8 583.7M695.7 584.6L691.8 583.7L694.9 581.2"/>
<path d="M718.1 581.9L709.8 583.3M713.7 584.4L709.8 583.3L713.1 580.9"/>
<path d="M736.2 581.9L728.5 583.8M732.2 584.6L728.5 583.8L731.4 581.3"/>
<path d="M754.4 581.9L746.8 583.7M750.5 584.5L746.8 583.7L749.7 581.3"/>
<path d="M772.6 581.9L764.9 583.9M768.6 584.7L764.9 583.9L767.8 581.4"/>
<path d="M790.8 581.9L781.3 584.2M785.9 585.2L781.3 584.2L784.9 581.2"/>
<path d="M136.5 600.0L118.5 601.6M126.6 604.7L118.5 601.6L125.9 597.1"/>
<path d="M154.7 600.0L134.7 601.8M143.7 605.2L134.7 601.8L142.9 596.8"/>
<path d="M172.8 600.0L151.0 601.9M160.8 605.7L151.0 601.9L160.0 596.5"/>
<path d="M191.0 600.0L169.6 603.8M179.6 606.7L169.6 603.8L178.0 597.7"/>
<path d="M209.2 600.0L189.7 606.4M199.5 607.7L189.7 606.4L196.8 599.5"/>
<path d="M227.4 600.0L210.0 604.7M218.4 606.3L210.0 604.7L216.5 599.0"/>
<path d="M245.5 600.0L230.5 608.0M238.6 607.7L230.5 608.0L235.3 601.4"/>
<path d="M263.7 600.0L250.8 609.0M258.3 607.9L250.8 609.0L254.5 602.4"/>
<path d="M281.9 600.0L270.4 610.4M277.5 608.3L270.4 610.4L273.2 603.5"/>
<path d="M300.1 600.0L288.7 610.0M295.7 608.1L288.7 610.0L291.5 603.3"/>
<path d="M318.2 600.0L308.9 611.9M315.4 608.7L308.9 611.9L310.4 604.8"/>
<path d="M336.4 600.0L326.3 609.3M332.6 607.5L326.3 609.3L328.7 603.2"/>
<path d="M354.6 600.0L345.6 610.7M351.7 608.0L345.6 610.7L347.2 604.2"/>
<path d="M372.8 600.0L362.7 609.0M368.9 607.2L362.7 609.0L365.2 603.0"/>
<path d="M390.9 600.0L384.5 607.6M388.9 605.7L384.5 607.6L385.7 603.0"/>
<path d="M409.1 600.0L406.5 607.1M409.1 604.6L406.5 607.1L406.1 603.5"/>
<path d="M427.3 600.0L424.4 604.3M426.6 603.0L424.4 604.3L424.8 601.9"/>
<path d="M445.5 600.0L444.7 604.5M445.9 602.7L444.7 604.5L444.1 602.4"/>
<path d="M463.6 600.0L462.7 603.4M463.8 602.1L462.7 603.4L462.4 601.7"/>
<path d="M481.8 600.0L481.8 603.7M482.6 602.1L481.8 603.7L481.0 602.1"/>
<path d="M500.0 600.0L499.2 603.8M500.3 602.3L499.2 603.8L498.7 602.0"/>
<path d="M518.2 600.0L518.2 604.0M519.0 602.3L518.2 604.0L517.3 602.3"/>
<path d="M536.3 600.0L535.1 603.8M536.4 602.4L535.1 603.8L534.9 601.9"/>
<path d="M554.5 600.0L553.2 603.7M554.5 602.4L553.2 603.7L553.0 601.8"/>
<path d="M572.7 600.0L571.0 604.7M572.7 603.1L571.0 604.7L570.7 602.3"/>
<path d="M590.9 600.0L587.8 604.6M590.1 603.3L587.8 604.6L588.1 602.0"/>
<path d="M609.0 600.0L606.0 604.0M608.2 602.9L606.0 604.0L606.5 601.7"/>
<path d="M627.2 600.0L623.0 605.0M625.9 603.7L623.0 605.0L623.8 602.0"/>
<path d="M645.4 600.0L640.1 602.9M643.0 602.8L640.1 602.9L641.8 600.6"/>
<path d="M663.6 600.0L657.9 602.1M660.8 602.4L657.9 602.1L659.9 600.0"/>
<path d="M681.7 600.0L675.0 602.0M678.3 602.5L675.0 602.0L677.5 599.7"/>
<path d="M699.9 600.0L694.1 602.6M697.1 602.7L694.1 602.6L696.0 600.2"/>
<path d="M718.1 600.0L712.2 601.6M715.1 602.1L712.2 601.6L714.4 599.7"/>
<path d="M736.2 600.0L729.0 602.8M732.7 603.1L729.0 602.8L731.5 600.1"/>
<path d="M754.4 600.0L747.5 601.2M750.8 602.2L747.5 601.2L750.2 599.3"/>
<path d="M772.6 600.0L765.3 602.2M768.9 602.8L765.3 602.2L768.0 599.7"/>
<path d="M790.8 600.0L783.0 601.4M786.6 602.4L783.0 601.4L786.0 599.2"/>
<path d="M27.4 618.2L4.8 622.2M15.4 625.2L4.8 622.2L13.7 615.7"/>
<path d="M45.6 618.2L24.3 624.9M34.9 626.5L24.3 624.9L32.1 617.5"/>
<path d="M63.8 618.2L44.5 627.2M54.7 627.3L44.5 627.2L50.9 619.2"/>
<path d="M82.0 618.2L63.3 625.2M72.8 626.1L63.3 625.2L69.9 618.2"/>
<path d="M100.1 618.2L82.7 622.9M91.2 624.5L82.7 622.9L89.3 617.2"/>
<path d="M118.3 618.2L98.5 624.1M108.3 625.7L98.5 624.1L105.8 617.4"/>
<path d="M136.5 618.2L116.3 621.8M125.7 624.5L116.3 621.8L124.3 616.0"/>
<path d="M154.7 618.2L135.2 622.4M144.5 624.7L135.2 622.4L142.7 616.5"/>
<path d="M172.8 618.2L153.1 619.9M162.0 623.3L153.1 619.9L161.2 615.0"/>
<path d="M191.0 618.2L172.1 623.7M181.4 625.3L172.1 623.7L179.1 617.4"/>
<path d="M209.2 618.2L191.5 624.6M200.5 625.6L191.5 624.6L197.8 618.1"/>
<path d="M227.4 618.2L211.0 625.5M219.6 625.8L211.0 625.5L216.5 618.9"/>
<path d="M245.5 618.2L230.2 625.3M238.3 625.5L230.2 625.3L235.3 619.0"/>
<path d="M263.7 618.2L249.1 626.9M257.2 626.2L249.1 626.9L253.6 620.1"/>
<path d="M281.9 618.2L267.8 627.0M275.7 626.1L267.8 627.0L272.0 620.2"/>
<path d="M300.1 618.2L287.4 626.6M294.6 625.6L287.4 626.6L291.1 620.3"/>
<path d="M318.2 618.2L305.5 627.1M312.9 625.9L305.5 627.1L309.1 620.6"/>
<path d="M336.4 618.2L323.4 626.0M330.6 625.4L323.4 626.0L327.4 619.9"/>
<path d="M354.6 618.2L343.6 625.9M349.9 624.9L343.6 625.9L346.7 620.3"/>
<path d="M372.8 618.2L361.7 624.1M367.7 623.9L361.7 624.1L365.2 619.2"/>
<path d="M390.9 618.2L381.4 624.9M386.9 624.0L381.4 624.9L384.1 620.0"/>
<path d="M409.1 618.2L404.5 623.6M407.7 622.2L404.5 623.6L405.4 620.3"/>
<path d="M427.3 618.2L424.8 622.4M426.8 621.1L424.8 622.4L425.0 620.1"/>
<path d="M445.5 618.2L443.0 622.1M444.9 621.0L443.0 622.1L443.2 619.9"/>
<path d="M463.6 618.2L464.2 621.7M464.7 620.1L464.2 621.7L463.2 620.3"/>
<path d="M481.8 618.2L483.0 621.5M483.2 619.8L483.0 621.5L481.8 620.3"/>
<path d="M500.0 618.2L500.1 622.2M500.9 620.5L500.1 622.2L499.2 620.5"/>
<path d="M518.2 618.2L518.2 622.3M519.0 620.5L518.2 622.3L517.3 620.5"/>
<path d="M536.3 618.2L536.0 621.7M536.9 620.3L536.0 621.7L535.4 620.1"/>
<path d="M554.5 618.2L554.5 622.3M555.4 620.5L554.5 622.3L553.6 620.5"/>
<path d="M572.7 618.2L571.8 623.1M573.2 621.2L571.8 623.1L571.1 620.8"/>
<path d="M590.9 618.2L588.8 623.7M590.8 621.7L588.8 623.7L588.5 620.9"/>
<path d="M609.0 618.2L607.5 623.0M609.1 621.2L607.5 623.0L607.1 620.6"/>
<path d="M627.2 618.2L625.0 623.0M626.9 621.4L625.0 623.0L624.9 620.5"/>
<path d="M645.4 618.2L641.9 623.1M644.5 621.7L641.9 623.1L642.4 620.3"/>
<path d="M663.6 618.2L659.6 622.0M662.1 621.2L659.6 622.0L660.5 619.5"/>
<path d="M681.7 618.2L677.0 621.9M679.8 621.3L677.0 621.9L678.3 619.3"/>
<path d="M699.9 618.2L694.0 621.9M697.3 621.6L694.0 621.9L695.7 619.1"/>
<path d="M718.1 618.2L712.8 621.4M715.8 621.1L712.8 621.4L714.4 618.9"/>
<path d="M736.2 618.2L731.7 621.4M734.3 621.0L731.7 621.4L733.0 619.1"/>
<path d="M754.4 618.2L750.0 620.5M752.4 620.5L750.0 620.5L751.4 618.6"/>
<path d="M772.6 618.2L767.8 621.0M770.5 620.8L767.8 621.0L769.3 618.8"/>
<path d="M790.8 618.2L784.2 622.8M788.0 622.2L784.2 622.8L786.1 619.4"/>
<path d="M9.2 636.4L-14.1 644.9M-2.2 646.1L-14.1 644.9L-5.8 636.3"/>
<path d="M27.4 636.4L5.3 644.4M16.6 645.6L5.3 644.4L13.2 636.3"/>
<path d="M45.6 636.4L24.5 645.5M35.5 646.0L24.5 645.5L31.7 637.1"/>
<path d="M63.8 636.4L45.1 646.8M55.3 646.2L45.1 646.8L51.0 638.4"/>
<path d="M82.0 636.4L65.3 644.2M74.1 644.3L65.3 644.2L70.8 637.3"/>
<path d="M100.1 636.4L82.3 642.9M91.3 643.8L82.3 642.9L88.6 636.3"/>
<path d="M118.3 636.4L102.1 643.3M110.6 643.7L102.1 643.3L107.6 636.9"/>
<path d="M136.5 636.4L118.6 642.9M127.7 643.8L118.6 642.9L125.0 636.3"/>
<path d="M154.7 636.4L137.6 643.5M146.5 644.0L137.6 643.5L143.5 636.9"/>
<path d="M172.8 636.4L156.0 643.2M164.7 643.8L156.0 643.2L161.9 636.7"/>
<path d="M191.0 636.4L174.3 644.0M183.1 644.2L174.3 644.0L179.9 637.2"/>
<path d="M209.2 636.4L193.2 643.8M201.7 644.0L193.2 643.8L198.6 637.2"/>
<path d="M227.4 636.4L212.6 644.2M220.6 643.9L212.6 644.2L217.3 637.7"/>
<path d="M245.5 636.4L230.8 644.2M238.8 643.9L230.8 644.2L235.5 637.7"/>
<path d="M263.7 636.4L249.3 644.5M257.2 644.0L249.3 644.5L253.8 638.0"/>
<path d="M281.9 636.4L267.7 643.9M275.4 643.6L267.7 643.9L272.3 637.7"/>
<path d="M300.1 636.4L286.7 643.6M294.0 643.3L286.7 643.6L290.9 637.7"/>
<path d="M318.2 636.4L303.7 643.1M311.4 643.3L303.7 643.1L308.6 637.2"/>
<path d="M336.4 636.4L322.1 641.9M329.4 642.5L322.1 641.9L327.1 636.5"/>
<path d="M354.6 636.4L340.2 640.8M347.3 641.9L340.2 640.8L345.5 635.9"/>
<path d="M372.8 636.4L360.2 639.7M366.3 640.9L360.2 639.7L364.9 635.6"/>
<path d="M390.9 636.4L379.5 637.0M384.6 639.1L379.5 637.0L384.3 634.3"/>
<path d="M409.1 636.4L401.1 636.4M404.6 638.1L401.1 636.4L404.6 634.7"/>
<path d="M427.3 636.4L419.3 636.4M422.7 638.1L419.3 636.4L422.7 634.7"/>
<path d="M445.5 636.4L441.6 639.6M443.9 639.0L441.6 639.6L442.6 637.4"/>
<path d="M463.6 636.4L463.6 641.4M464.7 639.2L463.6 641.4L462.6 639.2"/>
<path d="M481.8 636.4L485.7 643.9M485.6 639.9L485.7 643.9L482.4 641.5"/>
<path d="M500.0 636.4L503.8 643.9M503.8 639.9L503.8 643.9L500.6 641.5"/>
<path d="M518.2 636.4L520.5 643.0M520.9 639.6L520.5 643.0L518.1 640.6"/>
<path d="M536.3 636.4L537.4 642.2M538.1 639.5L537.4 642.2L535.7 639.9"/>
<path d="M554.5 636.4L555.0 642.2M556.0 639.6L555.0 642.2L553.6 639.8"/>
<path d="M572.7 636.4L572.7 642.4M573.9 639.8L572.7 642.4L571.4 639.8"/>
<path d="M590.9 636.4L589.7 641.9M591.4 639.7L589.7 641.9L589.0 639.3"/>
<path d="M609.0 636.4L609.0 642.4M610.3 639.8L609.0 642.4L607.8 639.8"/>
<path d="M627.2 636.4L626.4 642.0M627.9 639.8L626.4 642.0L625.6 639.4"/>
<path d="M645.4 636.4L643.5 642.1M645.5 640.0L643.5 642.1L643.1 639.2"/>
<path d="M663.6 636.4L660.9 641.5M663.1 639.9L660.9 641.5L661.0 638.8"/>
<path d="M681.7 636.4L677.9 641.0M680.5 639.8L677.9 641.0L678.6 638.2"/>
<path d="M699.9 636.4L696.0 639.9M698.4 639.2L696.0 639.9L696.9 637.6"/>
<path d="M718.1 636.4L713.9 640.3M716.5 639.5L713.9 640.3L714.9 637.7"/>
<path d="M736.2 636.4L732.0 640.6M734.7 639.7L732.0 640.6L732.9 637.9"/>
<path d="M754.4 636.4L749.6 640.7M752.6 639.8L749.6 640.7L750.8 637.8"/>
<path d="M772.6 636.4L768.1 640.5M770.9 639.7L768.1 640.5L769.2 637.8"/>
<path d="M790.8 636.4L786.9 641.0M789.5 639.8L786.9 641.0L787.6 638.2"/>
<path d="M9.2 654.6L-6.4 663.0M2.1 662.7L-6.4 663.0L-1.4 656.1"/>
<path d="M27.4 654.6L11.4 662.0M19.9 662.2L11.4 662.0L16.8 655.4"/>
<path d="M45.6 654.6L30.8 663.5M39.1 662.8L30.8 663.5L35.3 656.6"/>
<path d="M63.8 654.6L50.1 664.6M58.1 663.1L50.1 664.6L53.9 657.4"/>
<path d="M82.0 654.6L66.9 664.6M75.5 663.4L66.9 664.6L71.3 657.1"/>
<path d="M100.1 654.6L83.7 664.1M92.8 663.4L83.7 664.1L88.8 656.5"/>
<path d="M118.3 654.6L103.0 664.5M111.7 663.4L103.0 664.5L107.5 657.0"/>
<path d="M136.5 654.6L120.6 663.7M129.4 663.1L120.6 663.7L125.5 656.4"/>
<path d="M154.7 654.6L139.3 664.7M148.1 663.5L139.3 664.7L143.8 657.1"/>
<path d="M172.8 654.6L157.2 664.3M166.0 663.4L157.2 664.3L161.9 656.8"/>
<path d="M191.0 654.6L175.6 665.0M184.5 663.7L175.6 665.0L180.1 657.2"/>
<path d="M209.2 654.6L194.5 664.3M202.9 663.2L194.5 664.3L198.8 657.0"/>
<path d="M227.4 654.6L213.4 663.4M221.3 662.5L213.4 663.4L217.5 656.6"/>
<path d="M245.5 654.6L231.8 663.7M239.7 662.6L231.8 663.7L235.8 656.9"/>
<path d="M263.7 654.6L249.8 663.0M257.6 662.3L249.8 663.0L254.0 656.4"/>
<path d="M281.9 654.6L268.1 662.9M275.8 662.2L268.1 662.9L272.3 656.4"/>
<path d="M300.1 654.6L285.4 662.0M293.3 661.9L285.4 662.0L290.1 655.7"/>
<path d="M318.2 654.6L304.2 661.4M311.7 661.4L304.2 661.4L308.8 655.5"/>
<path d="M336.4 654.6L321.8 660.4M329.3 661.0L321.8 660.4L326.9 654.8"/>
<path d="M354.6 654.6L341.3 658.1M347.8 659.4L341.3 658.1L346.3 653.8"/>
<path d="M372.8 654.6L359.3 656.0M365.4 658.2L359.3 656.0L364.8 652.5"/>
<path d="M390.9 654.6L380.8 654.0M385.0 656.4L380.8 654.0L385.3 652.1"/>
<path d="M409.1 654.6L400.0 652.1M403.4 655.1L400.0 652.1L404.4 651.3"/>
<path d="M427.3 654.6L418.7 651.9M421.8 654.9L418.7 651.9L422.9 651.2"/>
<path d="M445.5 654.6L439.1 652.3M441.4 654.6L439.1 652.3L442.3 651.9"/>
<path d="M463.6 654.6L457.1 654.0M459.8 655.6L457.1 654.0L460.0 652.8"/>
<path d="M481.8 654.6L479.0 656.9M480.7 656.4L479.0 656.9L479.7 655.3"/>
<path d="M500.0 654.6L500.0 660.6M501.2 658.0L500.0 660.6L498.7 658.0"/>
<path d="M518.2 654.6L521.0 665.9M522.1 660.4L521.0 665.9L517.4 661.6"/>
<path d="M536.3 654.6L540.0 666.0M540.8 660.3L540.0 666.0L536.0 661.8"/>
<path d="M554.5 654.6L556.3 664.9M557.7 660.0L556.3 664.9L553.4 660.8"/>
<path d="M572.7 654.6L572.7 663.0M574.4 659.3L572.7 663.0L570.9 659.3"/>
<path d="M590.9 654.6L589.9 660.9M591.7 658.3L589.9 660.9L589.0 658.0"/>
<path d="M609.0 654.6L609.0 662.0M610.6 658.8L609.0 662.0L607.5 658.8"/>
<path d="M627.2 654.6L627.2 662.0M628.8 658.8L627.2 662.0L625.6 658.8"/>
<path d="M645.4 654.6L644.0 659.9M645.7 657.9L644.0 659.9L643.4 657.3"/>
<path d="M663.6 654.6L661.9 659.9M663.7 657.9L661.9 659.9L661.5 657.2"/>
<path d="M681.7 654.6L679.0 658.7M681.1 657.5L679.0 658.7L679.3 656.4"/>
<path d="M699.9 654.6L696.5 659.0M698.9 657.8L696.5 659.0L697.0 656.3"/>
<path d="M718.1 654.6L714.8 659.0M717.1 657.8L714.8 659.0L715.2 656.4"/>
<path d="M736.2 654.6L732.7 659.6M735.3 658.1L732.7 659.6L733.2 656.7"/>
<path d="M754.4 654.6L750.4 659.6M753.2 658.3L750.4 659.6L751.1 656.6"/>
<path d="M772.6 654.6L768.6 659.4M771.3 658.2L768.6 659.4L769.3 656.5"/>
<path d="M790.8 654.6L787.2 659.6M789.8 658.2L787.2 659.6L787.7 656.7"/>
<path d="M9.2 672.7L-1.7 685.8M5.8 682.5L-1.7 685.8L0.3 677.9"/>
<path d="M27.4 672.7L15.0 684.3M22.8 681.9L15.0 684.3L17.9 676.7"/>
<path d="M45.6 672.7L33.7 684.6M41.3 682.0L33.7 684.6L36.3 677.0"/>
<path d="M63.8 672.7L52.5 684.4M59.8 681.8L52.5 684.4L54.9 677.0"/>
<path d="M82.0 672.7L70.2 684.7M77.8 682.0L70.2 684.7L72.8 677.1"/>
<path d="M100.1 672.7L88.1 684.7M95.8 682.1L88.1 684.7L90.8 677.0"/>
<path d="M118.3 672.7L105.8 685.6M113.9 682.7L105.8 685.6L108.5 677.4"/>
<path d="M136.5 672.7L124.4 686.1M132.4 682.9L124.4 686.1L126.8 677.8"/>
<path d="M154.7 672.7L141.8 686.0M150.1 683.0L141.8 686.0L144.6 677.5"/>
<path d="M172.8 672.7L160.2 686.8M168.6 683.4L160.2 686.8L162.7 678.1"/>
<path d="M191.0 672.7L178.5 685.7M186.6 682.7L178.5 685.7L181.2 677.5"/>
<path d="M209.2 672.7L195.9 684.6M204.2 682.3L195.9 684.6L199.1 676.7"/>
<path d="M227.4 672.7L214.9 683.6M222.5 681.6L214.9 683.6L218.0 676.3"/>
<path d="M245.5 672.7L234.0 684.3M241.4 681.7L234.0 684.3L236.5 676.9"/>
<path d="M263.7 672.7L250.5 681.9M258.1 680.7L250.5 681.9L254.2 675.1"/>
<path d="M281.9 672.7L268.3 681.2M275.9 680.4L268.3 681.2L272.4 674.7"/>
<path d="M300.1 672.7L287.1 679.1M294.0 679.1L287.1 679.1L291.4 673.6"/>
<path d="M318.2 672.7L304.9 678.9M312.0 679.0L304.9 678.9L309.4 673.5"/>
<path d="M336.4 672.7L322.2 677.6M329.4 678.5L322.2 677.6L327.3 672.5"/>
<path d="M354.6 672.7L340.0 675.3M346.8 677.3L340.0 675.3L345.7 671.1"/>
<path d="M372.8 672.7L359.8 672.3M365.3 675.2L359.8 672.3L365.5 669.7"/>
<path d="M390.9 672.7L380.3 668.2M384.0 672.4L380.3 668.2L385.8 667.9"/>
<path d="M409.1 672.7L400.3 668.0M403.1 671.9L400.3 668.0L405.1 668.2"/>
<path d="M427.3 672.7L419.2 670.1M422.1 672.9L419.2 670.1L423.2 669.5"/>
<path d="M445.5 672.7L439.0 668.6M440.9 671.7L439.0 668.6L442.7 669.0"/>
<path d="M463.6 672.7L456.4 670.8M459.1 673.1L456.4 670.8L459.9 670.1"/>
<path d="M481.8 672.7L475.0 668.5M477.1 671.7L475.0 668.5L478.8 668.9"/>
<path d="M500.0 672.7L491.0 672.4M494.8 674.4L491.0 672.4L494.9 670.7"/>
<path d="M518.2 672.7L509.9 675.7M514.1 676.2L509.9 675.7L512.8 672.7"/>
<path d="M536.3 672.7L529.9 679.9M534.2 678.1L529.9 679.9L531.2 675.4"/>
<path d="M554.5 672.7L553.1 680.9M555.4 677.7L553.1 680.9L552.0 677.1"/>
<path d="M572.7 672.7L572.7 680.9M574.4 677.4L572.7 680.9L570.9 677.4"/>
<path d="M590.9 672.7L592.7 680.9M593.6 677.0L592.7 680.9L590.2 677.8"/>
<path d="M609.0 672.7L609.9 680.9M611.2 677.2L609.9 680.9L607.8 677.5"/>
<path d="M627.2 672.7L629.4 682.3M630.5 677.7L629.4 682.3L626.4 678.6"/>
<path d="M645.4 672.7L647.1 682.3M648.3 677.8L647.1 682.3L644.3 678.5"/>
<path d="M663.6 672.7L663.9 679.9M665.3 676.7L663.9 679.9L662.3 676.9"/>
<path d="M681.7 672.7L681.5 679.9M683.1 676.9L681.5 679.9L680.1 676.8"/>
<path d="M699.9 672.7L698.8 678.9M700.6 676.5L698.8 678.9L698.0 676.0"/>
<path d="M718.1 672.7L715.4 679.2M717.9 677.0L715.4 679.2L715.2 675.9"/>
<path d="M736.2 672.7L733.0 677.6M735.4 676.2L733.0 677.6L733.4 674.8"/>
<path d="M754.4 672.7L751.4 678.5M753.9 676.6L751.4 678.5L751.5 675.3"/>
<path d="M772.6 672.7L769.1 677.9M771.7 676.4L769.1 677.9L769.5 674.9"/>
<path d="M790.8 672.7L787.6 678.2M790.1 676.5L787.6 678.2L787.8 675.2"/>
<path d="M9.2 690.9L2.6 705.1M8.5 700.3L2.6 705.1L2.5 697.6"/>
<path d="M27.4 690.9L19.4 705.9M26.0 701.1L19.4 705.9L19.7 697.8"/>
<path d="M45.6 690.9L36.9 705.6M43.8 701.1L36.9 705.6L37.6 697.4"/>
<path d="M63.8 690.9L54.6 704.7M61.5 700.7L54.6 704.7L55.6 696.8"/>
<path d="M82.0 690.9L73.0 705.5M79.9 701.1L73.0 705.5L73.8 697.3"/>
<path d="M100.1 690.9L92.1 705.9M98.7 701.1L92.1 705.9L92.4 697.8"/>
<path d="M118.3 690.9L109.1 705.7M116.2 701.2L109.1 705.7L110.0 697.4"/>
<path d="M136.5 690.9L127.5 706.5M134.6 701.7L127.5 706.5L128.1 697.9"/>
<path d="M154.7 690.9L144.5 705.9M152.0 701.5L144.5 705.9L145.7 697.3"/>
<path d="M172.8 690.9L162.1 706.2M170.0 701.9L162.1 706.2L163.5 697.4"/>
<path d="M191.0 690.9L180.3 706.1M188.1 701.8L180.3 706.1L181.7 697.3"/>
<path d="M209.2 690.9L198.5 704.3M205.9 700.8L198.5 704.3L200.3 696.2"/>
<path d="M227.4 690.9L217.0 702.1M223.8 699.4L217.0 702.1L219.1 695.1"/>
<path d="M245.5 690.9L235.0 701.5M241.8 699.1L235.0 701.5L237.3 694.7"/>
<path d="M263.7 690.9L251.7 699.3M258.6 698.2L251.7 699.3L255.1 693.2"/>
<path d="M281.9 690.9L269.6 698.6M276.5 697.9L269.6 698.6L273.3 692.7"/>
<path d="M300.1 690.9L288.1 697.3M294.6 697.0L288.1 697.3L291.9 692.0"/>
<path d="M318.2 690.9L307.8 694.5M313.1 695.1L307.8 694.5L311.6 690.7"/>
<path d="M336.4 690.9L325.5 692.1M330.4 693.9L325.5 692.1L329.9 689.3"/>
<path d="M354.6 690.9L342.8 688.4M347.4 692.0L342.8 688.4L348.4 687.0"/>
<path d="M372.8 690.9L363.8 685.7M366.6 689.8L363.8 685.7L368.7 686.1"/>
<path d="M390.9 690.9L383.3 684.5M385.2 688.9L383.3 684.5L387.9 685.6"/>
<path d="M409.1 690.9L403.7 686.4M405.1 689.5L403.7 686.4L407.0 687.2"/>
<path d="M427.3 690.9L419.9 687.2M422.3 690.3L419.9 687.2L423.8 687.2"/>
<path d="M445.5 690.9L438.4 687.0M440.6 690.2L438.4 687.0L442.2 687.2"/>
<path d="M463.6 690.9L457.6 685.8M459.1 689.3L457.6 685.8L461.3 686.7"/>
<path d="M481.8 690.9L475.0 687.0M477.1 690.1L475.0 687.0L478.8 687.3"/>
<path d="M500.0 690.9L492.0 688.0M494.8 690.9L492.0 688.0L496.0 687.6"/>
<path d="M518.2 690.9L508.2 690.0M512.3 692.5L508.2 690.0L512.7 688.3"/>
<path d="M536.3 690.9L523.9 690.9M529.3 693.5L523.9 690.9L529.3 688.3"/>
<path d="M554.5 690.9L540.1 690.9M546.3 693.9L540.1 690.9L546.3 687.9"/>
<path d="M572.7 690.9L559.7 690.4M565.2 693.4L559.7 690.4L565.4 687.9"/>
<path d="M590.9 690.9L575.9 690.9M582.3 694.1L575.9 690.9L582.3 687.7"/>
<path d="M609.0 690.9L596.0 698.4M603.2 697.9L596.0 698.4L600.1 692.4"/>
<path d="M627.2 690.9L613.2 690.9M619.2 693.8L613.2 690.9L619.2 688.0"/>
<path d="M645.4 690.9L633.9 691.5M639.0 693.7L633.9 691.5L638.7 688.8"/>
<path d="M663.6 690.9L653.0 693.9M658.2 694.8L653.0 693.9L656.9 690.4"/>
<path d="M681.7 690.9L675.0 696.9M679.2 695.7L675.0 696.9L676.7 692.9"/>
<path d="M699.9 690.9L695.9 697.8M699.1 695.7L695.9 697.8L696.2 694.0"/>
<path d="M718.1 690.9L716.4 695.6M718.1 693.9L716.4 695.6L716.1 693.2"/>
<path d="M736.2 690.9L731.2 696.6M734.6 695.2L731.2 696.6L732.2 693.1"/>
<path d="M754.4 690.9L753.1 695.7M754.7 693.9L753.1 695.7L752.7 693.4"/>
<path d="M772.6 690.9L769.8 694.4M771.7 693.5L769.8 694.4L770.3 692.3"/>
<path d="M790.8 690.9L790.0 695.6M791.3 693.7L790.0 695.6L789.3 693.4"/>
<path d="M9.2 709.1L4.8 723.4M9.7 718.1L4.8 723.4L3.7 716.3"/>
<path d="M27.4 709.1L23.6 727.1M29.0 720.1L23.6 727.1L21.5 718.5"/>
<path d="M45.6 709.1L39.8 726.2M45.9 720.0L39.8 726.2L38.7 717.6"/>
<path d="M63.8 709.1L56.6 724.6M63.0 719.4L56.6 724.6L56.4 716.4"/>
<path d="M82.0 709.1L75.5 725.4M81.7 719.7L75.5 725.4L74.8 717.0"/>
<path d="M100.1 709.1L94.9 726.3M100.8 720.0L94.9 726.3L93.5 717.8"/>
<path d="M118.3 709.1L111.2 726.7M118.0 720.6L111.2 726.7L110.5 717.6"/>
<path d="M136.5 709.1L129.6 727.9M136.5 721.2L129.6 727.9L128.6 718.3"/>
<path d="M154.7 709.1L146.0 727.1M153.5 721.2L146.0 727.1L145.9 717.5"/>
<path d="M172.8 709.1L164.8 726.3M171.9 720.6L164.8 726.3L164.6 717.2"/>
<path d="M191.0 709.1L181.5 724.3M188.8 719.7L181.5 724.3L182.4 715.7"/>
<path d="M209.2 709.1L201.2 722.8M207.6 718.6L201.2 722.8L201.8 715.2"/>
<path d="M227.4 709.1L218.5 721.6M224.9 718.1L218.5 721.6L219.7 714.3"/>
<path d="M245.5 709.1L238.4 720.5M243.9 717.1L238.4 720.5L239.1 714.1"/>
<path d="M263.7 709.1L253.4 717.4M259.6 716.0L253.4 717.4L256.1 711.6"/>
<path d="M281.9 709.1L270.8 716.0M277.0 715.3L270.8 716.0L274.1 710.7"/>
<path d="M300.1 709.1L288.9 715.0M294.9 714.8L288.9 715.0L292.4 710.1"/>
<path d="M318.2 709.1L308.0 710.2M312.6 711.8L308.0 710.2L312.2 707.5"/>
<path d="M336.4 709.1L326.9 708.1M330.8 710.5L326.9 708.1L331.2 706.5"/>
<path d="M354.6 709.1L345.0 706.3M348.5 709.5L345.0 706.3L349.7 705.5"/>
<path d="M372.8 709.1L362.8 704.0M366.0 708.3L362.8 704.0L368.2 704.1"/>
<path d="M390.9 709.1L383.3 702.6M385.2 707.0L383.3 702.6L387.9 703.8"/>
<path d="M409.1 709.1L404.2 704.1M405.2 707.3L404.2 704.1L407.3 705.2"/>
<path d="M427.3 709.1L422.0 705.6M423.6 708.2L422.0 705.6L425.0 706.0"/>
<path d="M445.5 709.1L441.2 705.2M442.2 707.8L441.2 705.2L443.8 706.0"/>
<path d="M463.6 709.1L459.1 705.9M460.4 708.2L459.1 705.9L461.7 706.3"/>
<path d="M481.8 709.1L474.9 705.1M477.1 708.3L474.9 705.1L478.7 705.4"/>
<path d="M500.0 709.1L492.5 706.3M495.1 709.1L492.5 706.3L496.3 705.9"/>
<path d="M518.2 709.1L510.0 708.1M513.3 710.2L510.0 708.1L513.7 706.8"/>
<path d="M536.3 709.1L526.9 708.4M530.9 710.7L526.9 708.4L531.1 706.7"/>
<path d="M554.5 709.1L544.1 708.3M548.4 710.9L544.1 708.3L548.7 706.5"/>
<path d="M572.7 709.1L560.7 709.1M565.9 711.6L560.7 709.1L565.9 706.5"/>
<path d="M590.9 709.1L577.9 710.5M583.8 712.6L577.9 710.5L583.2 707.2"/>
<path d="M609.0 709.1L595.0 709.1M601.1 712.0L595.0 709.1L601.1 706.1"/>
<path d="M627.2 709.1L613.3 707.9M619.0 711.3L613.3 707.9L619.5 705.4"/>
<path d="M645.4 709.1L631.9 706.2M637.1 710.3L631.9 706.2L638.3 704.6"/>
<path d="M663.6 709.1L648.1 704.9M653.9 710.0L648.1 704.9L655.6 703.5"/>
<path d="M681.7 709.1L667.9 704.8M672.9 709.6L667.9 704.8L674.7 703.7"/>
<path d="M699.9 709.1L686.1 711.8M692.6 713.5L686.1 711.8L691.5 707.7"/>
<path d="M718.1 709.1L705.3 705.9M710.2 710.0L705.3 705.9L711.5 704.6"/>
<path d="M736.2 709.1L722.8 710.5M728.9 712.7L722.8 710.5L728.3 707.1"/>
<path d="M754.4 709.1L741.3 705.6M746.2 709.8L741.3 705.6L747.7 704.3"/>
<path d="M772.6 709.1L759.1 710.0M765.1 712.4L759.1 710.0L764.7 706.8"/>
<path d="M790.8 709.1L778.5 705.8M783.1 709.8L778.5 705.8L784.5 704.6"/>
<path d="M9.2 727.2L7.0 743.1M11.3 736.7L7.0 743.1L4.6 735.8"/>
<path d="M27.4 727.2L24.6 747.1M30.0 739.1L24.6 747.1L21.7 737.9"/>
<path d="M45.6 727.2L41.4 746.1M47.2 738.8L41.4 746.1L39.2 737.1"/>
<path d="M63.8 727.2L58.1 744.0M64.1 738.0L58.1 744.0L57.0 735.6"/>
<path d="M82.0 727.2L77.1 746.3M83.2 739.1L77.1 746.3L75.2 737.1"/>
<path d="M100.1 727.2L97.3 747.1M102.7 739.1L97.3 747.1L94.4 737.9"/>
<path d="M118.3 727.2L113.2 746.9M119.5 739.5L113.2 746.9L111.2 737.3"/>
<path d="M136.5 727.2L131.9 748.8M138.4 740.4L131.9 748.8L129.3 738.5"/>
<path d="M154.7 727.2L148.2 746.5M155.1 739.5L148.2 746.5L147.0 736.8"/>
<path d="M172.8 727.2L167.4 747.5M174.0 739.9L167.4 747.5L165.5 737.6"/>
<path d="M191.0 727.2L182.8 744.8M190.0 738.9L182.8 744.8L182.7 735.5"/>
<path d="M209.2 727.2L201.5 743.1M208.2 737.9L201.5 743.1L201.5 734.6"/>
<path d="M227.4 727.2L219.4 740.5M225.6 736.5L219.4 740.5L220.0 733.1"/>
<path d="M245.5 727.2L237.7 738.3M243.4 735.2L237.7 738.3L238.7 731.9"/>
<path d="M263.7 727.2L253.4 735.8M259.7 734.2L253.4 735.8L256.1 729.9"/>
<path d="M281.9 727.2L270.3 733.4M276.6 733.2L270.3 733.4L274.0 728.3"/>
<path d="M300.1 727.2L290.9 732.5M296.0 732.2L290.9 732.5L293.7 728.3"/>
<path d="M318.2 727.2L309.8 730.3M314.1 730.8L309.8 730.3L312.8 727.2"/>
<path d="M336.4 727.2L326.4 728.1M330.9 729.8L326.4 728.1L330.6 725.6"/>
<path d="M354.6 727.2L344.5 727.2M348.8 729.4L344.5 727.2L348.8 725.1"/>
<path d="M372.8 727.2L364.8 725.3M367.8 727.8L364.8 725.3L368.6 724.4"/>
<path d="M390.9 727.2L382.4 722.0M385.0 726.0L382.4 722.0L387.2 722.5"/>
<path d="M409.1 727.2L404.1 723.1M405.4 725.9L404.1 723.1L407.1 723.8"/>
<path d="M427.3 727.2L422.3 723.8M423.7 726.4L422.3 723.8L425.2 724.3"/>
<path d="M445.5 727.2L441.4 723.6M442.4 726.0L441.4 723.6L443.9 724.3"/>
<path d="M463.6 727.2L459.9 724.3M460.9 726.3L459.9 724.3L462.1 724.8"/>
<path d="M481.8 727.2L478.1 723.1M478.8 725.7L478.1 723.1L480.5 724.1"/>
<path d="M500.0 727.2L495.9 723.1M496.8 725.7L495.9 723.1L498.6 724.0"/>
<path d="M518.2 727.2L513.1 724.1M514.6 726.5L513.1 724.1L515.9 724.4"/>
<path d="M536.3 727.2L528.9 725.9M531.9 728.1L528.9 725.9L532.4 725.0"/>
<path d="M554.5 727.2L547.1 727.2M550.3 728.8L547.1 727.2L550.3 725.7"/>
<path d="M572.7 727.2L562.7 727.2M567.0 729.4L562.7 727.2L567.0 725.1"/>
<path d="M590.9 727.2L579.9 727.6M584.7 729.8L579.9 727.6L584.5 725.1"/>
<path d="M609.0 727.2L597.0 727.2M602.2 729.8L597.0 727.2L602.2 724.7"/>
<path d="M627.2 727.2L615.2 727.6M620.5 730.0L615.2 727.6L620.3 724.9"/>
<path d="M645.4 727.2L632.4 727.2M638.0 730.0L632.4 727.2L638.0 724.5"/>
<path d="M663.6 727.2L650.0 727.2M655.8 730.1L650.0 727.2L655.8 724.4"/>
<path d="M681.7 727.2L667.8 725.8M673.5 729.3L667.8 725.8L674.1 723.5"/>
<path d="M699.9 727.2L686.9 723.8M691.8 728.0L686.9 723.8L693.2 722.5"/>
<path d="M718.1 727.2L705.5 722.7M710.0 727.3L705.5 722.7L711.9 722.0"/>
<path d="M736.2 727.2L722.4 725.2M727.9 729.0L722.4 725.2L728.8 723.2"/>
<path d="M754.4 727.2L740.7 722.3M745.6 727.3L740.7 722.3L747.7 721.5"/>
<path d="M772.6 727.2L758.8 724.8M764.3 728.8L758.8 724.8L765.3 723.0"/>
<path d="M790.8 727.2L778.7 722.9M783.0 727.3L778.7 722.9L784.9 722.2"/>
<path d="M9.2 745.4L6.6 762.8M11.4 755.9L6.6 762.8L4.1 754.8"/>
<path d="M27.4 745.4L25.7 765.0M30.6 756.9L25.7 765.0L22.3 756.2"/>
<path d="M45.6 745.4L42.3 765.3M47.9 757.4L42.3 765.3L39.6 756.0"/>
<path d="M63.8 745.4L58.9 763.8M64.9 756.9L58.9 763.8L57.1 754.9"/>
<path d="M82.0 745.4L78.3 765.5M84.1 757.6L78.3 765.5L75.7 756.1"/>
<path d="M100.1 745.4L98.3 766.3M103.5 757.7L98.3 766.3L94.7 756.9"/>
<path d="M118.3 745.4L114.2 767.1M120.5 758.6L114.2 767.1L111.4 756.9"/>
<path d="M136.5 745.4L133.5 766.8M139.3 758.2L133.5 766.8L130.3 756.9"/>
<path d="M154.7 745.4L149.8 765.9M156.2 758.1L149.8 765.9L147.6 756.0"/>
<path d="M172.8 745.4L168.7 768.6M175.4 759.4L168.7 768.6L165.6 757.7"/>
<path d="M191.0 745.4L185.4 766.4M192.2 758.5L185.4 766.4L183.4 756.1"/>
<path d="M209.2 745.4L204.1 764.3M210.3 757.2L204.1 764.3L202.3 755.1"/>
<path d="M227.4 745.4L220.5 762.1M227.0 756.3L220.5 762.1L220.0 753.5"/>
<path d="M245.5 745.4L238.5 760.5M244.7 755.5L238.5 760.5L238.4 752.5"/>
<path d="M263.7 745.4L254.3 756.9M260.8 753.9L254.3 756.9L255.9 750.0"/>
<path d="M281.9 745.4L273.8 755.7M279.5 753.0L273.8 755.7L275.1 749.6"/>
<path d="M300.1 745.4L292.9 752.6M297.5 751.0L292.9 752.6L294.4 748.0"/>
<path d="M318.2 745.4L311.4 749.7M315.3 749.3L311.4 749.7L313.5 746.4"/>
<path d="M336.4 745.4L330.7 748.7M333.8 748.5L330.7 748.7L332.4 746.1"/>
<path d="M354.6 745.4L347.8 748.6M351.4 748.6L347.8 748.6L350.1 745.8"/>
<path d="M372.8 745.4L364.9 746.8M368.6 747.9L364.9 746.8L368.0 744.6"/>
<path d="M390.9 745.4L386.1 745.0M388.1 746.2L386.1 745.0L388.3 744.2"/>
<path d="M409.1 745.4L406.1 744.0M407.1 745.3L406.1 744.0L407.7 744.0"/>
<path d="M427.3 745.4L424.0 743.1M424.9 744.8L424.0 743.1L425.9 743.4"/>
<path d="M445.5 745.4L442.3 741.4M442.8 743.8L442.3 741.4L444.5 742.5"/>
<path d="M463.6 745.4L459.9 741.3M460.7 743.9L459.9 741.3L462.4 742.3"/>
<path d="M481.8 745.4L479.1 740.1M479.1 743.0L479.1 740.1L481.4 741.8"/>
<path d="M500.0 745.4L498.0 740.1M497.7 742.8L498.0 740.1L500.0 742.0"/>
<path d="M518.2 745.4L516.0 740.0M515.8 742.8L516.0 740.0L518.0 741.9"/>
<path d="M536.3 745.4L534.9 740.0M534.4 742.7L534.9 740.0L536.6 742.1"/>
<path d="M554.5 745.4L553.1 743.0M553.2 744.3L553.1 743.0L554.2 743.8"/>
<path d="M572.7 745.4L568.7 745.4M570.4 746.3L568.7 745.4L570.4 744.6"/>
<path d="M590.9 745.4L583.9 745.3M586.8 746.8L583.9 745.3L586.9 743.9"/>
<path d="M609.0 745.4L601.0 745.4M604.5 747.1L601.0 745.4L604.5 743.7"/>
<path d="M627.2 745.4L618.2 745.7M622.2 747.5L618.2 745.7L622.0 743.7"/>
<path d="M645.4 745.4L635.9 745.4M640.0 747.4L635.9 745.4L640.0 743.4"/>
<path d="M663.6 745.4L653.0 745.3M657.5 747.6L653.0 745.3L657.5 743.1"/>
<path d="M681.7 745.4L670.9 743.9M675.3 746.8L670.9 743.9L675.9 742.3"/>
<path d="M699.9 745.4L689.1 744.1M693.5 747.0L689.1 744.1L694.0 742.4"/>
<path d="M718.1 745.4L707.1 743.5M711.4 746.6L707.1 743.5L712.2 742.0"/>
<path d="M736.2 745.4L724.3 743.9M729.2 747.1L724.3 743.9L729.8 742.1"/>
<path d="M754.4 745.4L744.0 743.6M748.1 746.6L744.0 743.6L748.9 742.2"/>
<path d="M772.6 745.4L760.7 743.7M765.5 746.9L760.7 743.7L766.2 741.9"/>
<path d="M790.8 745.4L779.0 743.3M783.6 746.7L779.0 743.3L784.5 741.8"/>
<path d="M9.2 763.6L6.9 780.4M11.5 773.6L6.9 780.4L4.4 772.6"/>
<path d="M27.4 763.6L25.8 782.2M30.4 774.5L25.8 782.2L22.6 773.8"/>
<path d="M45.6 763.6L42.8 782.8M48.0 775.1L42.8 782.8L39.9 773.9"/>
<path d="M63.8 763.6L59.2 782.1M65.1 775.1L59.2 782.1L57.3 773.1"/>
<path d="M82.0 763.6L78.7 783.6M84.3 775.7L78.7 783.6L75.9 774.3"/>
<path d="M100.1 763.6L98.2 785.7M103.7 776.6L98.2 785.7L94.4 775.8"/>
<path d="M118.3 763.6L114.6 784.6M120.6 776.4L114.6 784.6L111.7 774.8"/>
<path d="M136.5 763.6L132.1 785.2M138.5 776.8L132.1 785.2L129.4 774.9"/>
<path d="M154.7 763.6L151.6 785.1M157.5 776.5L151.6 785.1L148.4 775.2"/>
<path d="M172.8 763.6L167.4 785.9M174.4 777.4L167.4 785.9L165.0 775.2"/>
<path d="M191.0 763.6L186.6 784.3M192.9 776.3L186.6 784.3L184.2 774.4"/>
<path d="M209.2 763.6L203.6 782.1M209.9 775.3L203.6 782.1L202.1 772.9"/>
<path d="M227.4 763.6L223.6 781.1M228.9 774.4L223.6 781.1L221.5 772.8"/>
<path d="M245.5 763.6L238.4 778.6M244.6 773.6L238.4 778.6L238.3 770.6"/>
<path d="M263.7 763.6L255.2 775.8M261.4 772.3L255.2 775.8L256.3 768.7"/>
<path d="M281.9 763.6L276.3 775.5M281.2 771.5L276.3 775.5L276.2 769.2"/>
<path d="M300.1 763.6L292.5 770.8M297.3 769.2L292.5 770.8L294.3 766.1"/>
<path d="M318.2 763.6L311.0 767.9M315.0 767.5L311.0 767.9L313.2 764.5"/>
<path d="M336.4 763.6L331.1 767.3M334.2 766.8L331.1 767.3L332.6 764.6"/>
<path d="M354.6 763.6L347.8 766.0M351.2 766.4L347.8 766.0L350.2 763.5"/>
<path d="M372.8 763.6L367.6 763.7M369.8 764.7L367.6 763.7L369.8 762.6"/>
<path d="M390.9 763.6L386.7 762.8M388.3 764.1L386.7 762.8L388.7 762.3"/>
<path d="M409.1 763.6L406.0 762.5M407.1 763.6L406.0 762.5L407.6 762.3"/>
<path d="M427.3 763.6L424.8 761.5M425.4 762.9L424.8 761.5L426.3 761.9"/>
<path d="M445.5 763.6L444.2 760.2M444.0 761.9L444.2 760.2L445.5 761.4"/>
<path d="M463.6 763.6L461.2 760.5M461.6 762.3L461.2 760.5L462.9 761.3"/>
<path d="M481.8 763.6L479.8 760.1M479.9 762.0L479.8 760.1L481.4 761.2"/>
<path d="M500.0 763.6L499.6 759.6M498.9 761.4L499.6 759.6L500.6 761.3"/>
<path d="M518.2 763.6L516.2 760.1M516.3 762.0L516.2 760.1L517.8 761.2"/>
<path d="M536.3 763.6L534.1 760.6M534.4 762.4L534.1 760.6L535.7 761.4"/>
<path d="M554.5 763.6L552.9 760.8M553.0 762.4L552.9 760.8L554.2 761.7"/>
<path d="M572.7 763.6L569.3 762.4M570.5 763.6L569.3 762.4L571.0 762.2"/>
<path d="M590.9 763.6L586.6 763.6M588.5 764.5L586.6 763.6L588.5 762.7"/>
<path d="M609.0 763.6L603.3 763.7M605.8 764.8L603.3 763.7L605.7 762.4"/>
<path d="M627.2 763.6L619.2 764.0M622.7 765.5L619.2 764.0L622.6 762.1"/>
<path d="M645.4 763.6L637.1 763.8M640.7 765.5L637.1 763.8L640.6 762.0"/>
<path d="M663.6 763.6L654.9 763.6M658.7 765.4L654.9 763.6L658.7 761.8"/>
<path d="M681.7 763.6L673.0 763.3M676.7 765.3L673.0 763.3L676.8 761.6"/>
<path d="M699.9 763.6L691.2 763.2M694.8 765.2L691.2 763.2L695.0 761.5"/>
<path d="M718.1 763.6L709.4 762.8M713.0 765.0L709.4 762.8L713.3 761.3"/>
<path d="M736.2 763.6L728.5 762.9M731.7 764.8L728.5 762.9L732.0 761.6"/>
<path d="M754.4 763.6L748.5 763.0M750.9 764.5L748.5 763.0L751.2 762.0"/>
<path d="M772.6 763.6L763.1 762.7M767.0 765.1L763.1 762.7L767.4 761.1"/>
<path d="M790.8 763.6L779.8 762.6M784.4 765.4L779.8 762.6L784.8 760.8"/>
</g>
<g fill="#808080" shape-rendering="crispEdges">
<rect x="9" y="27" width="1" height="745"/>
<rect x="0" y="36" width="800" height="1"/>
<rect x="81" y="27" width="1" height="745"/>
<rect x="0" y="109" width="800" height="1"/>
<rect x="154" y="27" width="1" height="745"/>
<rect x="0" y="181" width="800" height="1"/>
<rect x="227" y="27" width="1" height="745"/>
<rect x="0" y="254" width="800" height="1"/>
<rect x="299" y="27" width="1" height="745"/>
<rect x="0" y="327" width="800" height="1"/>
<rect x="372" y="27" width="1" height="745"/>
<rect x="0" y="400" width="800" height="1"/>
<rect x="445" y="27" width="1" height="745"/>
<rect x="0" y="472" width="800" height="1"/>
<rect x="518" y="27" width="1" height="745"/>
<rect x="0" y="545" width="800" height="1"/>
<rect x="590" y="27" width="1" height="745"/>
<rect x="0" y="618" width="800" height="1"/>
<rect x="663" y="27" width="1" height="745"/>
<rect x="0" y="690" width="800" height="1"/>
<rect x="736" y="27" width="1" height="745"/>
<rect x="0" y="763" width="800" height="1"/>
</g>
<g fill="none" stroke="#000" stroke-width="1" clip-path="url(#pa)" shape-rendering="crispEdges">
<polyline points="234.5,28.5 236.0,29.0 240.0,30.5 238.0,32.0 233.0,33.0 234.0,40.0 235.2,49.5 233.0,56.0 230.0,61.5 222.5,69.0 227.0,75.0 225.5,84.0 224.0,93.0 219.5,96.0 212.7,100.5 216.5,106.5 215.7,114.0 213.5,120.0 220.2,130.5 215.0,138.0 212.0,142.5 212.7,140.0"/>
<polyline points="212.7,140.0 211.2,143.0 211.7,156.5 213.8,167.7 217.2,175.2 215.7,180.5 215.0,185.0 209.7,188.7 204.5,188.7 200.7,187.7 196.2,188.3 195.5,189.5 197.0,191.0 196.2,197.0 197.0,203.0 192.5,207.5 189.5,213.5 188.0,224.0 188.0,236.0 192.5,242.0 194.7,245.0 194.7,252.5 195.5,254.5 198.5,257.5 199.2,265.0 197.7,269.5 193.2,274.0 185.0,275.5 189.5,277.7 194.0,281.5 191.0,285.2 191.0,289.0 194.0,293.5 200.0,296.5 202.2,299.5 206.0,302.5 213.5,307.7 218.0,309.2 227.0,311.5 231.5,314.5 236.0,314.5 240.5,317.5 248.0,321.2 255.5,325.0 261.5,328.0 269.0,335.5 278.0,343.0 284.0,348.0 287.0,352.0 290.6,358.8 290.0,361.9 286.2,365.0 282.5,368.8 278.8,373.8 274.4,378.8 273.1,383.8 271.9,388.8 272.5,396.2 274.4,400.0 276.2,403.8 280.0,410.0 285.0,415.0 291.2,420.0 297.5,423.1 303.8,425.6 305.0,426.9 308.8,425.0 316.2,423.8 318.1,422.5 319.4,425.0 321.2,428.1 322.5,437.5 323.5,443.0 324.2,446.0 324.7,455.0 324.2,464.7 320.5,470.0 316.0,476.0 310.0,482.7 305.5,489.5 299.5,497.0 296.5,503.0 289.0,510.5 281.5,515.7 276.2,519.5 272.5,524.0 265.0,531.5 262.0,536.0 260.5,542.0 261.2,546.5 259.0,552.0 256.0,556.2 249.5,559.2 242.5,562.7 235.5,568.0 226.8,571.5 218.0,575.9 211.0,578.5 204.0,581.1 197.0,582.0 190.0,583.8 184.8,586.4 176.0,588.1 165.5,590.8 158.5,592.5 151.5,596.0 144.5,596.9 140.0,596.6 129.5,598.4 119.0,600.1 108.5,601.9 99.8,605.4 91.0,606.2 81.4,607.6 56.0,611.0 32.4,613.8 21.0,615.9 10.5,616.8 0.0,617.6"/>
<polyline points="212.7,140.0 214.2,147.5 217.2,156.5 218.0,167.0 222.5,171.5 223.2,179.0 221.7,183.5 218.0,188.0 213.5,189.5 205.2,189.5 201.5,190.2 200.7,191.7 201.5,204.5 197.0,209.7 199.2,214.2 196.2,219.5 196.2,227.0 195.5,236.0 197.0,248.0 201.5,251.0 205.2,254.0 210.5,259.0 212.7,265.0 218.0,266.5 222.5,269.5 227.0,272.5 231.5,277.0 234.5,281.5 236.0,286.0 239.0,289.0 245.0,287.5 251.0,286.0 257.0,285.2 260.0,286.7 264.5,286.0 272.0,285.2 280.0,286.2 286.0,286.2 290.5,287.7 299.5,293.7 308.5,302.0 314.5,305.0 325.0,307.2 334.0,310.2 340.0,309.5 344.5,311.7 343.0,314.7 344.5,317.0 349.0,320.0 354.2,320.7 356.5,318.5 358.0,320.0 361.0,321.8 364.0,320.0 370.0,318.5 376.0,315.5 382.0,312.2 388.0,310.2 394.0,310.2 400.5,310.7 405.0,312.2 417.0,312.2 421.5,314.0 424.5,317.7 429.0,320.0 433.5,318.5 439.5,318.2 443.2,320.7 446.2,321.5 448.5,325.2 454.5,322.2 462.0,319.2 469.5,316.7 477.0,314.0 484.5,311.0 492.0,307.7 496.5,305.0 497.2,302.7 495.0,300.5 498.0,299.7 499.5,298.2 498.0,296.3 495.0,295.7 498.0,296.3 500.0,297.5 500.2,300.5 499.5,303.5 501.0,304.2 507.0,302.7 508.5,299.7 510.0,298.2 512.0,296.0 516.5,292.5 527.0,286.5 535.2,282.7 534.5,279.0 536.0,274.5 540.5,268.5 548.0,262.5 552.5,258.0 554.0,250.5 556.2,243.0 561.5,235.5 569.0,231.7 576.5,228.0 582.5,222.7 590.0,216.7 597.5,210.0 605.0,204.0 612.5,197.2 618.5,189.7 620.0,186.7 624.8,175.5 630.3,167.3 634.4,153.6 637.1,142.6 639.0,140.0 642.0,135.0 645.0,130.0 648.0,126.5 653.0,123.0 657.0,120.0 660.0,118.0 664.0,114.0 668.0,110.0 671.0,106.0 674.0,103.0 679.0,100.0 684.0,97.5 689.0,95.0 694.0,92.0 700.0,89.0 710.0,82.0 720.0,74.0 728.0,68.0 736.0,62.0 742.0,55.0 748.0,48.0 754.0,41.0 760.0,34.5 765.0,28.5 766.0,27.5"/>
<polyline points="561.5,235.5 557.0,231.7 552.5,231.0 551.0,226.5 551.7,217.5 552.5,207.0 551.7,198.0 552.5,190.5 557.0,186.0 563.0,182.2 567.5,179.5 570.0,172.0 582.5,162.0 570.0,153.0 560.0,149.5 550.0,142.0 543.7,134.5 542.5,127.0 536.0,113.0 527.5,107.0 519.0,103.0 510.0,100.7 507.5,102.0 500.0,97.0 490.0,89.5 482.5,77.0 475.0,72.0 467.5,68.2 457.5,65.7 452.5,62.0 443.7,57.0 440.0,54.5 435.0,56.9 430.0,55.0 427.5,53.8 425.0,48.8 422.5,46.2 421.2,43.8 418.8,38.8 415.0,35.0 411.2,31.2 407.5,27.5"/>
<polyline points="330.0,44.0 350.0,44.0 365.0,43.0 373.1,42.5 376.2,41.9 381.2,41.2 387.5,38.1 390.0,35.0 392.5,32.5 396.2,31.9 398.8,30.6 397.5,28.8 395.0,28.1"/>
<polyline points="690.0,89.0 695.0,85.0 700.0,79.5 703.0,80.5 702.5,77.0 705.0,72.0 706.5,74.0 711.0,74.0 716.0,71.5 720.0,68.0 723.0,63.0 724.5,59.0 725.0,54.0 724.0,48.0 724.5,42.5 727.0,41.0 730.0,41.5 733.0,40.5 735.0,40.0 736.0,41.5 735.5,45.0 737.0,45.5 739.0,43.5 740.5,42.5 739.0,41.5 737.0,41.0 737.0,37.0 738.0,35.0 739.0,32.0 738.0,29.0 737.5,27.5"/>
<polyline points="703.5,27.5 702.0,29.0 701.0,31.0 701.0,37.0 702.5,40.5 703.0,42.5 700.0,43.8 691.2,46.2 689.4,50.0 688.8,54.4 678.8,55.6 670.0,58.1 666.9,60.6 666.2,62.5 663.8,65.0 664.0,72.0 663.5,80.0 661.2,81.9 658.8,83.8 656.2,86.2 651.2,88.1 648.1,89.4 647.5,92.5 645.6,96.9 646.9,100.0 650.0,101.2 653.1,103.8 648.8,105.0 645.6,106.2 645.0,110.0 644.4,113.8 646.9,115.0 650.0,113.5 652.0,111.0 654.0,112.5 656.0,114.0 658.0,116.0 660.0,118.0"/>
<polyline points="657.0,77.0 659.0,76.0 661.5,77.0 661.5,79.5 659.0,80.6 656.5,79.5 657.0,77.0"/>
<polyline points="657.5,94.0 657.5,96.2 660.0,95.6 662.5,96.2 665.0,97.5 667.5,98.8 670.0,99.4 673.8,98.8 675.6,96.9 677.5,95.0 681.2,94.4 685.0,93.1 690.0,90.0 695.0,85.0 700.0,80.0"/>
</g>
<g fill="#000" shape-rendering="crispEdges">
<rect x="0" y="27" width="800" height="1"/>
<rect x="0" y="27" width="1" height="745"/>
<rect x="1" y="28" width="1" height="4"/>
<rect x="1" y="768" width="1" height="4"/>
<rect x="9" y="28" width="1" height="17"/>
<rect x="9" y="755" width="1" height="17"/>
<rect x="16" y="28" width="1" height="4"/>
<rect x="16" y="768" width="1" height="4"/>
<rect x="23" y="28" width="1" height="4"/>
<rect x="23" y="768" width="1" height="4"/>
<rect x="30" y="28" width="1" height="4"/>
<rect x="30" y="768" width="1" height="4"/>
<rect x="38" y="28" width="1" height="4"/>
<rect x="38" y="768" width="1" height="4"/>
<rect x="45" y="28" width="1" height="9"/>
<rect x="45" y="763" width="1" height="9"/>
<rect x="52" y="28" width="1" height="4"/>
<rect x="52" y="768" width="1" height="4"/>
<rect x="60" y="28" width="1" height="4"/>
<rect x="60" y="768" width="1" height="4"/>
<rect x="67" y="28" width="1" height="4"/>
<rect x="67" y="768" width="1" height="4"/>
<rect x="74" y="28" width="1" height="4"/>
<rect x="74" y="768" width="1" height="4"/>
<rect x="81" y="28" width="1" height="17"/>
<rect x="81" y="755" width="1" height="17"/>
<rect x="89" y="28" width="1" height="4"/>
<rect x="89" y="768" width="1" height="4"/>
<rect x="96" y="28" width="1" height="4"/>
<rect x="96" y="768" width="1" height="4"/>
<rect x="103" y="28" width="1" height="4"/>
<rect x="103" y="768" width="1" height="4"/>
<rect x="110" y="28" width="1" height="4"/>
<rect x="110" y="768" width="1" height="4"/>
<rect x="118" y="28" width="1" height="9"/>
<rect x="118" y="763" width="1" height="9"/>
<rect x="125" y="28" width="1" height="4"/>
<rect x="125" y="768" width="1" height="4"/>
<rect x="132" y="28" width="1" height="4"/>
<rect x="132" y="768" width="1" height="4"/>
<rect x="139" y="28" width="1" height="4"/>
<rect x="139" y="768" width="1" height="4"/>
<rect x="147" y="28" width="1" height="4"/>
<rect x="147" y="768" width="1" height="4"/>
<rect x="154" y="28" width="1" height="17"/>
<rect x="154" y="755" width="1" height="17"/>
<rect x="161" y="28" width="1" height="4"/>
<rect x="161" y="768" width="1" height="4"/>
<rect x="169" y="28" width="1" height="4"/>
<rect x="169" y="768" width="1" height="4"/>
<rect x="176" y="28" width="1" height="4"/>
<rect x="176" y="768" width="1" height="4"/>
<rect x="183" y="28" width="1" height="4"/>
<rect x="183" y="768" width="1" height="4"/>
<rect x="190" y="28" width="1" height="9"/>
<rect x="190" y="763" width="1" height="9"/>
<rect x="198" y="28" width="1" height="4"/>
<rect x="198" y="768" width="1" height="4"/>
<rect x="205" y="28" width="1" height="4"/>
<rect x="205" y="768" width="1" height="4"/>
<rect x="212" y="28" width="1" height="4"/>
<rect x="212" y="768" width="1" height="4"/>
<rect x="219" y="28" width="1" height="4"/>
<rect x="219" y="768" width="1" height="4"/>
<rect x="227" y="28" width="1" height="17"/>
<rect x="227" y="755" width="1" height="17"/>
<rect x="234" y="28" width="1" height="4"/>
<rect x="234" y="768" width="1" height="4"/>
<rect x="241" y="28" width="1" height="4"/>
<rect x="241" y="768" width="1" height="4"/>
<rect x="249" y="28" width="1" height="4"/>
<rect x="249" y="768" width="1" height="4"/>
<rect x="256" y="28" width="1" height="4"/>
<rect x="256" y="768" width="1" height="4"/>
<rect x="263" y="28" width="1" height="9"/>
<rect x="263" y="763" width="1" height="9"/>
<rect x="270" y="28" width="1" height="4"/>
<rect x="270" y="768" width="1" height="4"/>
<rect x="278" y="28" width="1" height="4"/>
<rect x="278" y="768" width="1" height="4"/>
<rect x="285" y="28" width="1" height="4"/>
<rect x="285" y="768" width="1" height="4"/>
<rect x="292" y="28" width="1" height="4"/>
<rect x="292" y="768" width="1" height="4"/>
<rect x="299" y="28" width="1" height="17"/>
<rect x="299" y="755" width="1" height="17"/>
<rect x="307" y="28" width="1" height="4"/>
<rect x="307" y="768" width="1" height="4"/>
<rect x="314" y="28" width="1" height="4"/>
<rect x="314" y="768" width="1" height="4"/>
<rect x="321" y="28" width="1" height="4"/>
<rect x="321" y="768" width="1" height="4"/>
<rect x="329" y="28" width="1" height="4"/>
<rect x="329" y="768" width="1" height="4"/>
<rect x="336" y="28" width="1" height="9"/>
<rect x="336" y="763" width="1" height="9"/>
<rect x="343" y="28" width="1" height="4"/>
<rect x="343" y="768" width="1" height="4"/>
<rect x="350" y="28" width="1" height="4"/>
<rect x="350" y="768" width="1" height="4"/>
<rect x="358" y="28" width="1" height="4"/>
<rect x="358" y="768" width="1" height="4"/>
<rect x="365" y="28" width="1" height="4"/>
<rect x="365" y="768" width="1" height="4"/>
<rect x="372" y="28" width="1" height="17"/>
<rect x="372" y="755" width="1" height="17"/>
<rect x="379" y="28" width="1" height="4"/>
<rect x="379" y="768" width="1" height="4"/>
<rect x="387" y="28" width="1" height="4"/>
<rect x="387" y="768" width="1" height="4"/>
<rect x="394" y="28" width="1" height="4"/>
<rect x="394" y="768" width="1" height="4"/>
<rect x="401" y="28" width="1" height="4"/>
<rect x="401" y="768" width="1" height="4"/>
<rect x="409" y="28" width="1" height="9"/>
<rect x="409" y="763" width="1" height="9"/>
<rect x="416" y="28" width="1" height="4"/>
<rect x="416" y="768" width="1" height="4"/>
<rect x="423" y="28" width="1" height="4"/>
<rect x="423" y="768" width="1" height="4"/>
<rect x="430" y="28" width="1" height="4"/>
<rect x="430" y="768" width="1" height="4"/>
<rect x="438" y="28" width="1" height="4"/>
<rect x="438" y="768" width="1" height="4"/>
<rect x="445" y="28" width="1" height="17"/>
<rect x="445" y="755" width="1" height="17"/>
<rect x="452" y="28" width="1" height="4"/>
<rect x="452" y="768" width="1" height="4"/>
<rect x="459" y="28" width="1" height="4"/>
<rect x="459" y="768" width="1" height="4"/>
<rect x="467" y="28" width="1" height="4"/>
<rect x="467" y="768" width="1" height="4"/>
<rect x="474" y="28" width="1" height="4"/>
<rect x="474" y="768" width="1" height="4"/>
<rect x="481" y="28" width="1" height="9"/>
<rect x="481" y="763" width="1" height="9"/>
<rect x="489" y="28" width="1" height="4"/>
<rect x="489" y="768" width="1" height="4"/>
<rect x="496" y="28" width="1" height="4"/>
<rect x="496" y="768" width="1" height="4"/>
<rect x="503" y="28" width="1" height="4"/>
<rect x="503" y="768" width="1" height="4"/>
<rect x="510" y="28" width="1" height="4"/>
<rect x="510" y="768" width="1" height="4"/>
<rect x="518" y="28" width="1" height="17"/>
<rect x="518" y="755" width="1" height="17"/>
<rect x="525" y="28" width="1" height="4"/>
<rect x="525" y="768" width="1" height="4"/>
<rect x="532" y="28" width="1" height="4"/>
<rect x="532" y="768" width="1" height="4"/>
<rect x="539" y="28" width="1" height="4"/>
<rect x="539" y="768" width="1" height="4"/>
<rect x="547" y="28" width="1" height="4"/>
<rect x="547" y="768" width="1" height="4"/>
<rect x="554" y="28" width="1" height="9"/>
<rect x="554" y="763" width="1" height="9"/>
<rect x="561" y="28" width="1" height="4"/>
<rect x="561" y="768" width="1" height="4"/>
<rect x="569" y="28" width="1" height="4"/>
<rect x="569" y="768" width="1" height="4"/>
<rect x="576" y="28" width="1" height="4"/>
<rect x="576" y="768" width="1" height="4"/>
<rect x="583" y="28" width="1" height="4"/>
<rect x="583" y="768" width="1" height="4"/>
<rect x="590" y="28" width="1" height="17"/>
<rect x="590" y="755" width="1" height="17"/>
<rect x="598" y="28" width="1" height="4"/>
<rect x="598" y="768" width="1" height="4"/>
<rect x="605" y="28" width="1" height="4"/>
<rect x="605" y="768" width="1" height="4"/>
<rect x="612" y="28" width="1" height="4"/>
<rect x="612" y="768" width="1" height="4"/>
<rect x="619" y="28" width="1" height="4"/>
<rect x="619" y="768" width="1" height="4"/>
<rect x="627" y="28" width="1" height="9"/>
<rect x="627" y="763" width="1" height="9"/>
<rect x="634" y="28" width="1" height="4"/>
<rect x="634" y="768" width="1" height="4"/>
<rect x="641" y="28" width="1" height="4"/>
<rect x="641" y="768" width="1" height="4"/>
<rect x="649" y="28" width="1" height="4"/>
<rect x="649" y="768" width="1" height="4"/>
<rect x="656" y="28" width="1" height="4"/>
<rect x="656" y="768" width="1" height="4"/>
<rect x="663" y="28" width="1" height="17"/>
<rect x="663" y="755" width="1" height="17"/>
<rect x="670" y="28" width="1" height="4"/>
<rect x="670" y="768" width="1" height="4"/>
<rect x="678" y="28" width="1" height="4"/>
<rect x="678" y="768" width="1" height="4"/>
<rect x="685" y="28" width="1" height="4"/>
<rect x="685" y="768" width="1" height="4"/>
<rect x="692" y="28" width="1" height="4"/>
<rect x="692" y="768" width="1" height="4"/>
<rect x="699" y="28" width="1" height="9"/>
<rect x="699" y="763" width="1" height="9"/>
<rect x="707" y="28" width="1" height="4"/>
<rect x="707" y="768" width="1" height="4"/>
<rect x="714" y="28" width="1" height="4"/>
<rect x="714" y="768" width="1" height="4"/>
<rect x="721" y="28" width="1" height="4"/>
<rect x="721" y="768" width="1" height="4"/>
<rect x="729" y="28" width="1" height="4"/>
<rect x="729" y="768" width="1" height="4"/>
<rect x="736" y="28" width="1" height="17"/>
<rect x="736" y="755" width="1" height="17"/>
<rect x="743" y="28" width="1" height="4"/>
<rect x="743" y="768" width="1" height="4"/>
<rect x="750" y="28" width="1" height="4"/>
<rect x="750" y="768" width="1" height="4"/>
<rect x="758" y="28" width="1" height="4"/>
<rect x="758" y="768" width="1" height="4"/>
<rect x="765" y="28" width="1" height="4"/>
<rect x="765" y="768" width="1" height="4"/>
<rect x="772" y="28" width="1" height="9"/>
<rect x="772" y="763" width="1" height="9"/>
<rect x="779" y="28" width="1" height="4"/>
<rect x="779" y="768" width="1" height="4"/>
<rect x="787" y="28" width="1" height="4"/>
<rect x="787" y="768" width="1" height="4"/>
<rect x="794" y="28" width="1" height="4"/>
<rect x="794" y="768" width="1" height="4"/>
<rect x="0" y="29" width="4" height="1"/>
<rect x="796" y="29" width="4" height="1"/>
<rect x="0" y="36" width="17" height="1"/>
<rect x="783" y="36" width="17" height="1"/>
<rect x="0" y="43" width="4" height="1"/>
<rect x="796" y="43" width="4" height="1"/>
<rect x="0" y="51" width="4" height="1"/>
<rect x="796" y="51" width="4" height="1"/>
<rect x="0" y="58" width="4" height="1"/>
<rect x="796" y="58" width="4" height="1"/>
<rect x="0" y="65" width="4" height="1"/>
<rect x="796" y="65" width="4" height="1"/>
<rect x="0" y="72" width="9" height="1"/>
<rect x="791" y="72" width="9" height="1"/>
<rect x="0" y="80" width="4" height="1"/>
<rect x="796" y="80" width="4" height="1"/>
<rect x="0" y="87" width="4" height="1"/>
<rect x="796" y="87" width="4" height="1"/>
<rect x="0" y="94" width="4" height="1"/>
<rect x="796" y="94" width="4" height="1"/>
<rect x="0" y="101" width="4" height="1"/>
<rect x="796" y="101" width="4" height="1"/>
<rect x="0" y="109" width="17" height="1"/>
<rect x="783" y="109" width="17" height="1"/>
<rect x="0" y="116" width="4" height="1"/>
<rect x="796" y="116" width="4" height="1"/>
<rect x="0" y="123" width="4" height="1"/>
<rect x="796" y="123" width="4" height="1"/>
<rect x="0" y="131" width="4" height="1"/>
<rect x="796" y="131" width="4" height="1"/>
<rect x="0" y="138" width="4" height="1"/>
<rect x="796" y="138" width="4" height="1"/>
<rect x="0" y="145" width="9" height="1"/>
<rect x="791" y="145" width="9" height="1"/>
<rect x="0" y="152" width="4" height="1"/>
<rect x="796" y="152" width="4" height="1"/>
<rect x="0" y="160" width="4" height="1"/>
<rect x="796" y="160" width="4" height="1"/>
<rect x="0" y="167" width="4" height="1"/>
<rect x="796" y="167" width="4" height="1"/>
<rect x="0" y="174" width="4" height="1"/>
<rect x="796" y="174" width="4" height="1"/>
<rect x="0" y="181" width="17" height="1"/>
<rect x="783" y="181" width="17" height="1"/>
<rect x="0" y="189" width="4" height="1"/>
<rect x="796" y="189" width="4" height="1"/>
<rect x="0" y="196" width="4" height="1"/>
<rect x="796" y="196" width="4" height="1"/>
<rect x="0" y="203" width="4" height="1"/>
<rect x="796" y="203" width="4" height="1"/>
<rect x="0" y="210" width="4" height="1"/>
<rect x="796" y="210" width="4" height="1"/>
<rect x="0" y="218" width="9" height="1"/>
<rect x="791" y="218" width="9" height="1"/>
<rect x="0" y="225" width="4" height="1"/>
<rect x="796" y="225" width="4" height="1"/>
<rect x="0" y="232" width="4" height="1"/>
<rect x="796" y="232" width="4" height="1"/>
<rect x="0" y="240" width="4" height="1"/>
<rect x="796" y="240" width="4" height="1"/>
<rect x="0" y="247" width="4" height="1"/>
<rect x="796" y="247" width="4" height="1"/>
<rect x="0" y="254" width="17" height="1"/>
<rect x="783" y="254" width="17" height="1"/>
<rect x="0" y="261" width="4" height="1"/>
<rect x="796" y="261" width="4" height="1"/>
<rect x="0" y="269" width="4" height="1"/>
<rect x="796" y="269" width="4" height="1"/>
<rect x="0" y="276" width="4" height="1"/>
<rect x="796" y="276" width="4" height="1"/>
<rect x="0" y="283" width="4" height="1"/>
<rect x="796" y="283" width="4" height="1"/>
<rect x="0" y="290" width="9" height="1"/>
<rect x="791" y="290" width="9" height="1"/>
<rect x="0" y="298" width="4" height="1"/>
<rect x="796" y="298" width="4" height="1"/>
<rect x="0" y="305" width="4" height="1"/>
<rect x="796" y="305" width="4" height="1"/>
<rect x="0" y="312" width="4" height="1"/>
<rect x="796" y="312" width="4" height="1"/>
<rect x="0" y="320" width="4" height="1"/>
<rect x="796" y="320" width="4" height="1"/>
<rect x="0" y="327" width="17" height="1"/>
<rect x="783" y="327" width="17" height="1"/>
<rect x="0" y="334" width="4" height="1"/>
<rect x="796" y="334" width="4" height="1"/>
<rect x="0" y="341" width="4" height="1"/>
<rect x="796" y="341" width="4" height="1"/>
<rect x="0" y="349" width="4" height="1"/>
<rect x="796" y="349" width="4" height="1"/>
<rect x="0" y="356" width="4" height="1"/>
<rect x="796" y="356" width="4" height="1"/>
<rect x="0" y="363" width="9" height="1"/>
<rect x="791" y="363" width="9" height="1"/>
<rect x="0" y="370" width="4" height="1"/>
<rect x="796" y="370" width="4" height="1"/>
<rect x="0" y="378" width="4" height="1"/>
<rect x="796" y="378" width="4" height="1"/>
<rect x="0" y="385" width="4" height="1"/>
<rect x="796" y="385" width="4" height="1"/>
<rect x="0" y="392" width="4" height="1"/>
<rect x="796" y="392" width="4" height="1"/>
<rect x="0" y="400" width="17" height="1"/>
<rect x="783" y="400" width="17" height="1"/>
<rect x="0" y="407" width="4" height="1"/>
<rect x="796" y="407" width="4" height="1"/>
<rect x="0" y="414" width="4" height="1"/>
<rect x="796" y="414" width="4" height="1"/>
<rect x="0" y="421" width="4" height="1"/>
<rect x="796" y="421" width="4" height="1"/>
<rect x="0" y="429" width="4" height="1"/>
<rect x="796" y="429" width="4" height="1"/>
<rect x="0" y="436" width="9" height="1"/>
<rect x="791" y="436" width="9" height="1"/>
<rect x="0" y="443" width="4" height="1"/>
<rect x="796" y="443" width="4" height="1"/>
<rect x="0" y="450" width="4" height="1"/>
<rect x="796" y="450" width="4" height="1"/>
<rect x="0" y="458" width="4" height="1"/>
<rect x="796" y="458" width="4" height="1"/>
<rect x="0" y="465" width="4" height="1"/>
<rect x="796" y="465" width="4" height="1"/>
<rect x="0" y="472" width="17" height="1"/>
<rect x="783" y="472" width="17" height="1"/>
<rect x="0" y="479" width="4" height="1"/>
<rect x="796" y="479" width="4" height="1"/>
<rect x="0" y="487" width="4" height="1"/>
<rect x="796" y="487" width="4" height="1"/>
<rect x="0" y="494" width="4" height="1"/>
<rect x="796" y="494" width="4" height="1"/>
<rect x="0" y="501" width="4" height="1"/>
<rect x="796" y="501" width="4" height="1"/>
<rect x="0" y="509" width="9" height="1"/>
<rect x="791" y="509" width="9" height="1"/>
<rect x="0" y="516" width="4" height="1"/>
<rect x="796" y="516" width="4" height="1"/>
<rect x="0" y="523" width="4" height="1"/>
<rect x="796" y="523" width="4" height="1"/>
<rect x="0" y="530" width="4" height="1"/>
<rect x="796" y="530" width="4" height="1"/>
<rect x="0" y="538" width="4" height="1"/>
<rect x="796" y="538" width="4" height="1"/>
<rect x="0" y="545" width="17" height="1"/>
<rect x="783" y="545" width="17" height="1"/>
<rect x="0" y="552" width="4" height="1"/>
<rect x="796" y="552" width="4" height="1"/>
<rect x="0" y="559" width="4" height="1"/>
<rect x="796" y="559" width="4" height="1"/>
<rect x="0" y="567" width="4" height="1"/>
<rect x="796" y="567" width="4" height="1"/>
<rect x="0" y="574" width="4" height="1"/>
<rect x="796" y="574" width="4" height="1"/>
<rect x="0" y="581" width="9" height="1"/>
<rect x="791" y="581" width="9" height="1"/>
<rect x="0" y="589" width="4" height="1"/>
<rect x="796" y="589" width="4" height="1"/>
<rect x="0" y="596" width="4" height="1"/>
<rect x="796" y="596" width="4" height="1"/>
<rect x="0" y="603" width="4" height="1"/>
<rect x="796" y="603" width="4" height="1"/>
<rect x="0" y="610" width="4" height="1"/>
<rect x="796" y="610" width="4" height="1"/>
<rect x="0" y="618" width="17" height="1"/>
<rect x="783" y="618" width="17" height="1"/>
<rect x="0" y="625" width="4" height="1"/>
<rect x="796" y="625" width="4" height="1"/>
<rect x="0" y="632" width="4" height="1"/>
<rect x="796" y="632" width="4" height="1"/>
<rect x="0" y="639" width="4" height="1"/>
<rect x="796" y="639" width="4" height="1"/>
<rect x="0" y="647" width="4" height="1"/>
<rect x="796" y="647" width="4" height="1"/>
<rect x="0" y="654" width="9" height="1"/>
<rect x="791" y="654" width="9" height="1"/>
<rect x="0" y="661" width="4" height="1"/>
<rect x="796" y="661" width="4" height="1"/>
<rect x="0" y="668" width="4" height="1"/>
<rect x="796" y="668" width="4" height="1"/>
<rect x="0" y="676" width="4" height="1"/>
<rect x="796" y="676" width="4" height="1"/>
<rect x="0" y="683" width="4" height="1"/>
<rect x="796" y="683" width="4" height="1"/>
<rect x="0" y="690" width="17" height="1"/>
<rect x="783" y="690" width="17" height="1"/>
<rect x="0" y="698" width="4" height="1"/>
<rect x="796" y="698" width="4" height="1"/>
<rect x="0" y="705" width="4" height="1"/>
<rect x="796" y="705" width="4" height="1"/>
<rect x="0" y="712" width="4" height="1"/>
<rect x="796" y="712" width="4" height="1"/>
<rect x="0" y="719" width="4" height="1"/>
<rect x="796" y="719" width="4" height="1"/>
<rect x="0" y="727" width="9" height="1"/>
<rect x="791" y="727" width="9" height="1"/>
<rect x="0" y="734" width="4" height="1"/>
<rect x="796" y="734" width="4" height="1"/>
<rect x="0" y="741" width="4" height="1"/>
<rect x="796" y="741" width="4" height="1"/>
<rect x="0" y="748" width="4" height="1"/>
<rect x="796" y="748" width="4" height="1"/>
<rect x="0" y="756" width="4" height="1"/>
<rect x="796" y="756" width="4" height="1"/>
<rect x="0" y="763" width="17" height="1"/>
<rect x="783" y="763" width="17" height="1"/>
<rect x="0" y="770" width="4" height="1"/>
<rect x="796" y="770" width="4" height="1"/>
</g>
<text class="l" x="792" y="105" text-anchor="end">32S</text>
<text class="l" x="792" y="177" text-anchor="end">33S</text>
<text class="l" x="792" y="250" text-anchor="end">34S</text>
<text class="l" x="792" y="323" text-anchor="end">35S</text>
<text class="l" x="792" y="396" text-anchor="end">36S</text>
<text class="l" x="792" y="468" text-anchor="end">37S</text>
<text class="l" x="792" y="541" text-anchor="end">38S</text>
<text class="l" x="792" y="614" text-anchor="end">39S</text>
<text class="l" x="792" y="686" text-anchor="end">40S</text>
<text class="l" x="792" y="759" text-anchor="end">41S</text>
<text class="lo" transform="translate(14,743.5) rotate(90)" x="0" y="0">61W</text>
<text class="lo" transform="translate(86,743.5) rotate(90)" x="0" y="0">60W</text>
<text class="lo" transform="translate(159,743.5) rotate(90)" x="0" y="0">59W</text>
<text class="lo" transform="translate(232,743.5) rotate(90)" x="0" y="0">58W</text>
<text class="lo" transform="translate(304,743.5) rotate(90)" x="0" y="0">57W</text>
<text class="lo" transform="translate(377,743.5) rotate(90)" x="0" y="0">56W</text>
<text class="lo" transform="translate(450,743.5) rotate(90)" x="0" y="0">55W</text>
<text class="lo" transform="translate(523,743.5) rotate(90)" x="0" y="0">54W</text>
<text class="lo" transform="translate(595,743.5) rotate(90)" x="0" y="0">53W</text>
<text class="lo" transform="translate(668,743.5) rotate(90)" x="0" y="0">52W</text>
<text class="lo" transform="translate(741,743.5) rotate(90)" x="0" y="0">51W</text>
<g shape-rendering="crispEdges">
<rect x="32" y="160" width="49" height="609" fill="#000"/>
<rect x="33" y="161" width="47" height="607" fill="#fff"/>
<rect x="34" y="162" width="45" height="605" fill="url(#cb)"/>
</g>
<text class="c" x="86.5" y="165.0">30</text>
<text class="c" x="86.5" y="317.7">22</text>
<text class="c" x="86.5" y="469.2">15</text>
<text class="c" x="86.5" y="620.7">8</text>
<text class="c" x="86.5" y="772.2">0</text>
<text class="u" x="34" y="147" textLength="44" lengthAdjust="spacing">[m/s]</text>
<text class="t" x="5 31 48 66 83 92 109 118 139 156 173 191 201 229 248 267 284 293 304 325 343 360 378" y="50">modelo GEFS-WAVE (NCEP)</text>
<text class="t" x="5 16 33 45 62 77 94 109 121 130 148 165 177 194 204 213 230 247 264 281 291 308 325 335 352 369 378 395 412 422 439 456 466 483" y="73">forecast date: 2026-03-20 00:00:00</text>
<text class="t" x="41 57 74 83 92 110 119 137 154 166 183 193 202 219 236 253 270 280 297 314 324 341 358 367 384 401 411 428 445 455 472" y="96">valid date: 2026-03-25 21:00:00</text>
</svg></body></html>
